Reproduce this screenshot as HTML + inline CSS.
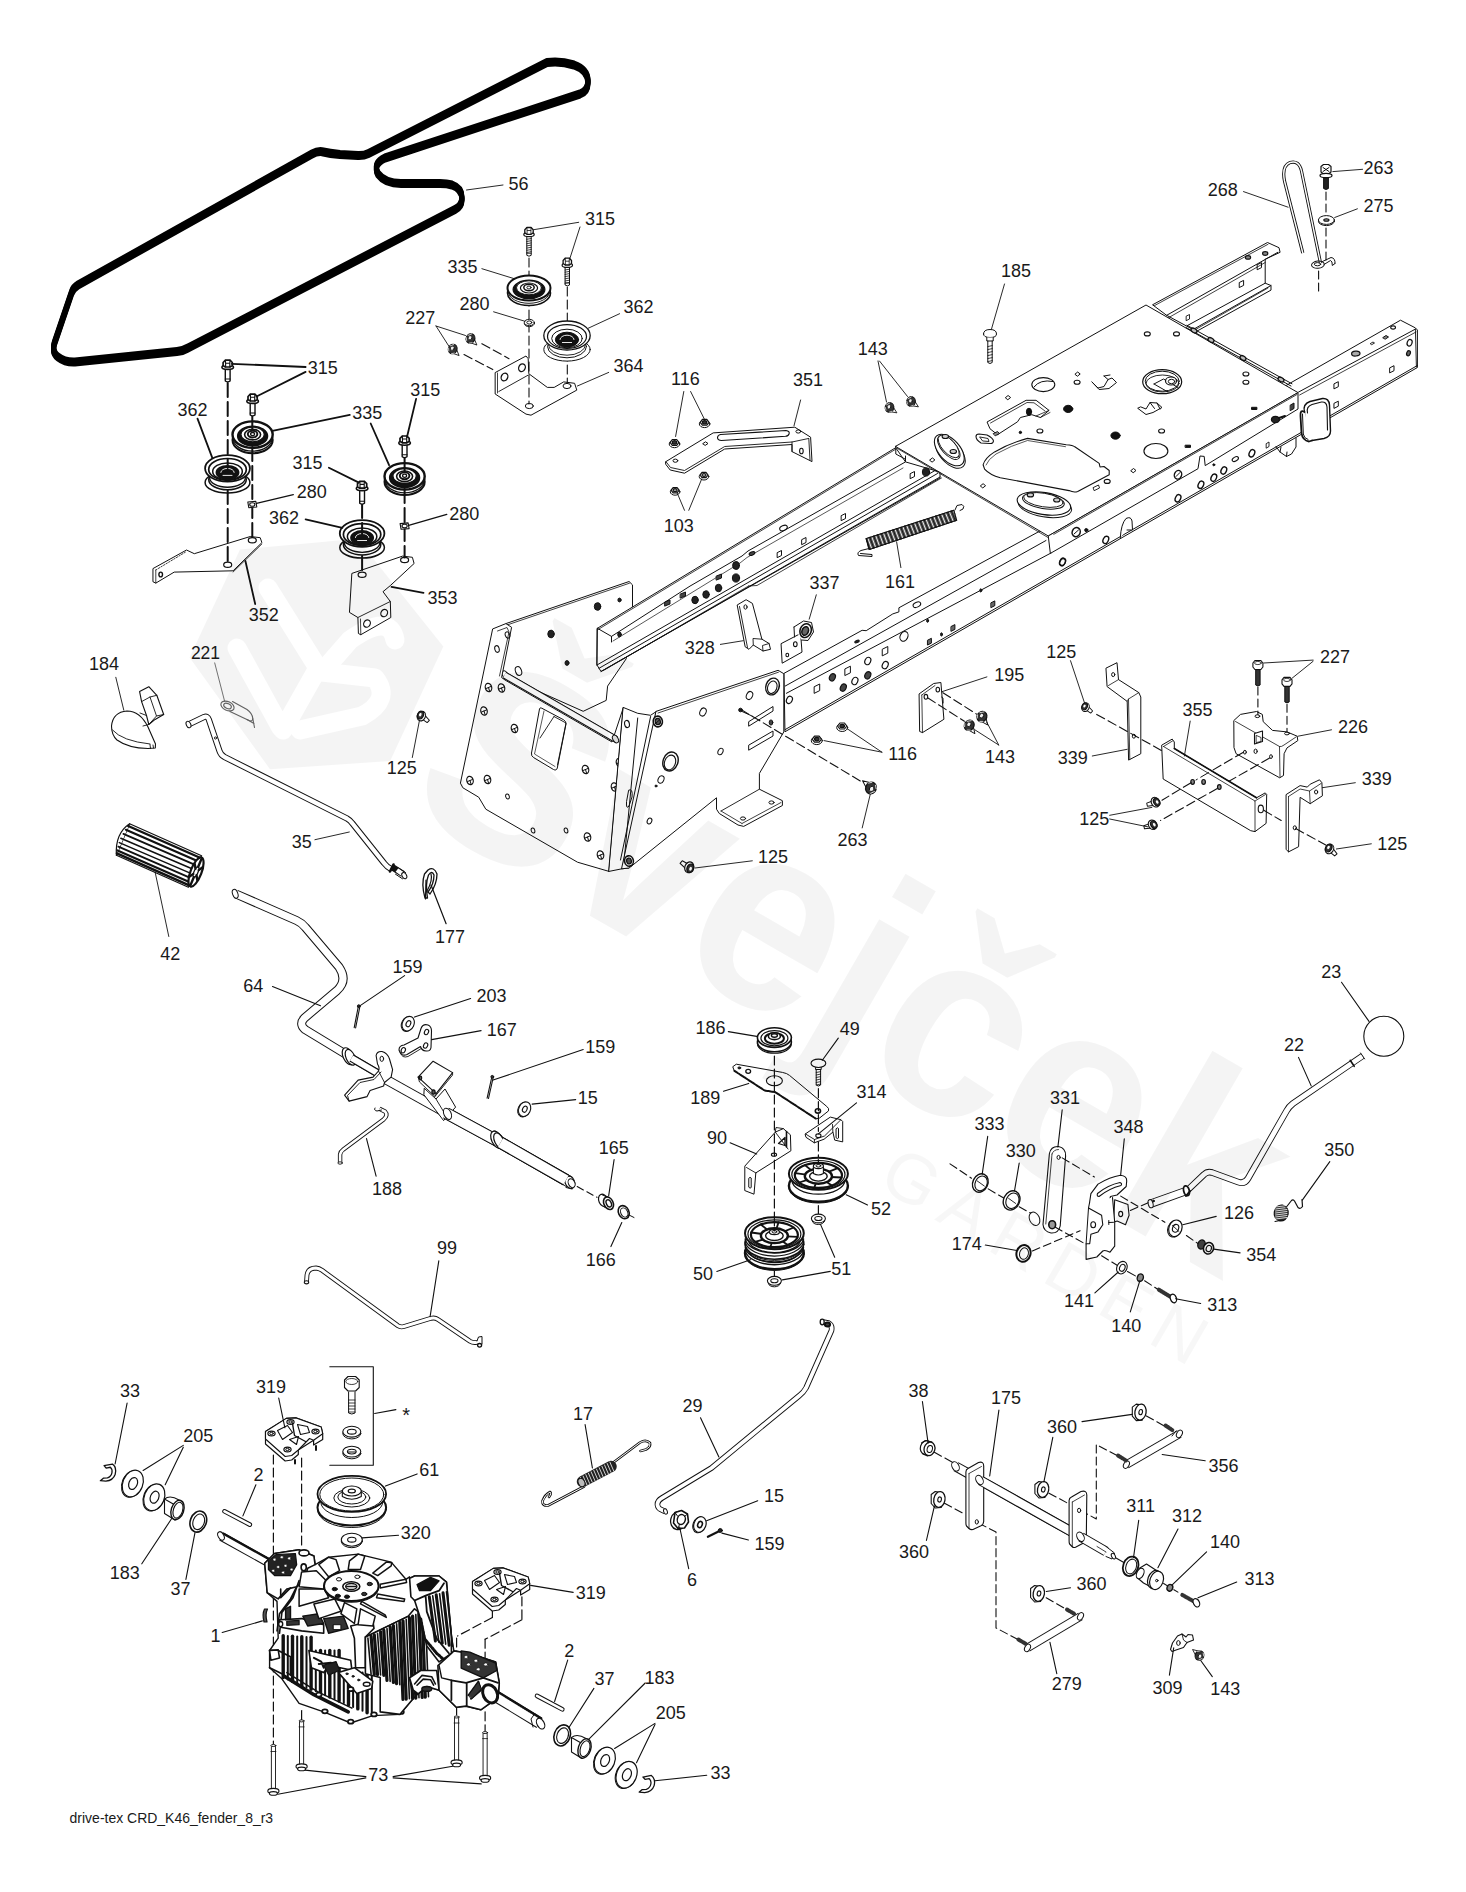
<!DOCTYPE html>
<html lang="en"><head><meta charset="utf-8"><title>drive-tex CRD_K46_fender_8_r3</title>
<style>
html,body{margin:0;padding:0;background:#fff}
body{width:1466px;height:1892px;overflow:hidden}
svg{display:block}
svg text{font-family:"Liberation Sans",sans-serif;fill:#1a1a1a;stroke:none}
</style></head><body>
<svg width="1466" height="1892" viewBox="0 0 1466 1892" fill="none" stroke="#111" stroke-linecap="round" stroke-linejoin="round">
<rect x="0" y="0" width="1466" height="1892" fill="#fff" stroke="none"/>
<g id="01_belt">
<path d="M547 62.5 L368.5 153.5 Q364 155.8 358 155.6 L340 154.6 Q330 153.5 322 151.7 Q317 151.2 312 154 L78 285 Q73 288 71.5 293 L54.5 343 Q51.5 352 58 357 Q65 362.5 75 362 L177 351.5 Q183 351 188 348 L455 209.5 Q462 206 462 198.5 Q462 188.5 452 185 Q447 183.5 440 183.5 L401 183.5 Q385 183.5 378 174 Q372.5 164 385 158 L580 94 Q588 91 588 82 Q588 70 574 65 Q560 60.5 547 62.5 Z" stroke="#000" stroke-width="5" transform="translate(0 -2)"/>
<path d="M547 62.5 L368.5 153.5 Q364 155.8 358 155.6 L340 154.6 Q330 153.5 322 151.7 Q317 151.2 312 154 L78 285 Q73 288 71.5 293 L54.5 343 Q51.5 352 58 357 Q65 362.5 75 362 L177 351.5 Q183 351 188 348 L455 209.5 Q462 206 462 198.5 Q462 188.5 452 185 Q447 183.5 440 183.5 L401 183.5 Q385 183.5 378 174 Q372.5 164 385 158 L580 94 Q588 91 588 82 Q588 70 574 65 Q560 60.5 547 62.5 Z" stroke="#000" stroke-width="5" transform="translate(0 -1)"/>
<path d="M547 62.5 L368.5 153.5 Q364 155.8 358 155.6 L340 154.6 Q330 153.5 322 151.7 Q317 151.2 312 154 L78 285 Q73 288 71.5 293 L54.5 343 Q51.5 352 58 357 Q65 362.5 75 362 L177 351.5 Q183 351 188 348 L455 209.5 Q462 206 462 198.5 Q462 188.5 452 185 Q447 183.5 440 183.5 L401 183.5 Q385 183.5 378 174 Q372.5 164 385 158 L580 94 Q588 91 588 82 Q588 70 574 65 Q560 60.5 547 62.5 Z" stroke="#000" stroke-width="5" transform="translate(0 0)"/>
<path d="M547 62.5 L368.5 153.5 Q364 155.8 358 155.6 L340 154.6 Q330 153.5 322 151.7 Q317 151.2 312 154 L78 285 Q73 288 71.5 293 L54.5 343 Q51.5 352 58 357 Q65 362.5 75 362 L177 351.5 Q183 351 188 348 L455 209.5 Q462 206 462 198.5 Q462 188.5 452 185 Q447 183.5 440 183.5 L401 183.5 Q385 183.5 378 174 Q372.5 164 385 158 L580 94 Q588 91 588 82 Q588 70 574 65 Q560 60.5 547 62.5 Z" stroke="#000" stroke-width="5" transform="translate(0 1)"/>
<path d="M547 62.5 L368.5 153.5 Q364 155.8 358 155.6 L340 154.6 Q330 153.5 322 151.7 Q317 151.2 312 154 L78 285 Q73 288 71.5 293 L54.5 343 Q51.5 352 58 357 Q65 362.5 75 362 L177 351.5 Q183 351 188 348 L455 209.5 Q462 206 462 198.5 Q462 188.5 452 185 Q447 183.5 440 183.5 L401 183.5 Q385 183.5 378 174 Q372.5 164 385 158 L580 94 Q588 91 588 82 Q588 70 574 65 Q560 60.5 547 62.5 Z" stroke="#000" stroke-width="5" transform="translate(0 2)"/>
<path d="M466.5 190L503 185" stroke-width="0.9"/>
<text x="518.5" y="189.5" font-size="18" text-anchor="middle">56</text>
</g>
<g id="02_grpA">
<path d="M495.5 372.4L526 356L528.2 358.7L528.8 373.7L547.3 387.4L554.2 387.4L563.7 381.9L574.6 383.3L576.8 390.1L531 415.2L526 414.1L495.5 394.2Z" stroke-width="1" fill="#fff"/>
<path d="M498.8 391.5L528.2 375.1" stroke-width="0.9"/>
<path d="M497.5 373L497.5 393" stroke-width="0.8"/>
<ellipse cx="504.5" cy="377" rx="3.2" ry="4" stroke-width="1.3" fill="#fff" transform="rotate(25 504.5 377)"/>
<ellipse cx="522" cy="367.7" rx="3.2" ry="4" stroke-width="1.3" fill="#fff" transform="rotate(25 522 367.7)"/>
<ellipse cx="529.3" cy="406" rx="4" ry="2.6" stroke-width="1" fill="none"/>
<ellipse cx="567" cy="386" rx="4" ry="2.6" stroke-width="1" fill="none"/>
<path d="M529 258L529 404" stroke-width="1.1" stroke-dasharray="9 4"/>
<path d="M567.3 287L567.3 383" stroke-width="1.1" stroke-dasharray="9 4"/>
<path d="M481.9 343.7L509 358.7" stroke-width="1.1" stroke-dasharray="9 4"/>
<path d="M464 354.6L492.8 369.6" stroke-width="1.1" stroke-dasharray="9 4"/>
<g transform="translate(470.5 338.5) rotate(25) scale(0.9)">
<path d="M2 -3.2L9.5 3.6L1 4.4Z" fill="#fff" stroke-width="0.9"/>
<ellipse cx="0" cy="0" rx="4.8" ry="5.4" fill="#333" stroke-width="1.2"/>
<ellipse cx="-0.8" cy="-0.6" rx="2" ry="2.4" fill="#eee" stroke-width="0.8"/>
<path d="M-4 -2L-1 -5M-4.6 1L-3 3.8M1 5.2L3.6 3.4" stroke="#fff" stroke-width="0.7"/>
</g>
<g transform="translate(452.7 349) rotate(25) scale(0.9)">
<path d="M2 -3.2L9.5 3.6L1 4.4Z" fill="#fff" stroke-width="0.9"/>
<ellipse cx="0" cy="0" rx="4.8" ry="5.4" fill="#333" stroke-width="1.2"/>
<ellipse cx="-0.8" cy="-0.6" rx="2" ry="2.4" fill="#eee" stroke-width="0.8"/>
<path d="M-4 -2L-1 -5M-4.6 1L-3 3.8M1 5.2L3.6 3.4" stroke="#fff" stroke-width="0.7"/>
</g>
<ellipse cx="529" cy="293" rx="21.5" ry="12.5" stroke-width="1.6" fill="#fff"/>
<ellipse cx="529" cy="291.2" rx="20.9" ry="12.1" stroke-width="0.96" fill="#fff"/>
<ellipse cx="529" cy="288" rx="21.5" ry="12.5" stroke-width="2.0" fill="#fff"/>
<ellipse cx="529" cy="289.4" rx="15.9" ry="9.2" stroke-width="1.2" fill="#111"/>
<ellipse cx="529" cy="287.8" rx="12.5" ry="7" stroke-width="0.96" fill="#fff"/>
<ellipse cx="529" cy="288" rx="8.6" ry="5" stroke-width="1.2" fill="#fff"/>
<ellipse cx="529" cy="287.5" rx="5.2" ry="3.2" stroke-width="1.5" fill="#fff"/>
<ellipse cx="529" cy="287.5" rx="2.1" ry="1.5" stroke-width="0.96" fill="#fff"/>
<ellipse cx="567" cy="349.5" rx="23.2" ry="11.6" stroke-width="1.0" fill="#fff"/>
<ellipse cx="567" cy="346.5" rx="19.5" ry="11.3" stroke-width="1.0" fill="#fff"/>
<ellipse cx="567" cy="344.5" rx="18.6" ry="10.7" stroke-width="0.9" fill="#fff"/>
<ellipse cx="567" cy="335.5" rx="23.2" ry="14.5" stroke-width="1.3" fill="#fff"/>
<ellipse cx="567" cy="336.5" rx="19.5" ry="11.9" stroke-width="1.2" fill="#fff"/>
<ellipse cx="567" cy="338.5" rx="15.3" ry="9.3" stroke-width="1.0" fill="#fff"/>
<ellipse cx="567" cy="339.7" rx="11.6" ry="7.5" stroke-width="1.0" fill="#111"/>
<path d="M560 339.5 A7 4.3 0 0 1 574 339.5" stroke-width="0.9" fill="none" stroke="#fff"/>
<path d="M562.4 342.5 H571.6" stroke-width="0.9" fill="none" stroke="#fff"/>
<ellipse cx="529.3" cy="323.5" rx="5" ry="3.2" stroke-width="1" fill="#fff"/>
<ellipse cx="529.3" cy="322.5" rx="5" ry="3.2" stroke-width="1" fill="#fff"/>
<ellipse cx="529.3" cy="322.5" rx="2.5" ry="1.6" stroke-width="1" fill="#fff"/>
<path d="M526.8 235.3V255.3Q529 257.1 531.2 255.3V235.3" stroke-width="1.0" fill="#fff"/>
<path d="M526.8 253.3L531.2 253.3" stroke-width="0.8"/>
<ellipse cx="529" cy="234.5" rx="5.2" ry="2.2" stroke-width="1.2" fill="#fff"/>
<path d="M524.8 229.8L526.9 227.5L531.1 227.5L533.2 229.8L533.2 232.8L531.1 234.3L526.9 234.3L524.8 232.8Z" stroke-width="1.3" fill="#fff"/>
<path d="M526.9 227.5L527.1 230.5L530.9 230.5L531.1 227.5M527.1 230.5V234.3M530.9 230.5V234.3" stroke-width="0.8" fill="none"/>
<path d="M526.8 239.3L531.2 238.5" stroke-width="0.8"/>
<path d="M526.8 241.5L531.2 240.7" stroke-width="0.8"/>
<path d="M526.8 243.7L531.2 242.9" stroke-width="0.8"/>
<path d="M526.8 245.9L531.2 245.1" stroke-width="0.8"/>
<path d="M526.8 248.1L531.2 247.3" stroke-width="0.8"/>
<path d="M526.8 250.3L531.2 249.5" stroke-width="0.8"/>
<path d="M526.8 252.5L531.2 251.7" stroke-width="0.8"/>
<path d="M565.1 266V285Q567.3 286.8 569.5 285V266" stroke-width="1.0" fill="#fff"/>
<path d="M565.1 283L569.5 283" stroke-width="0.8"/>
<ellipse cx="567.3" cy="265.2" rx="5.2" ry="2.2" stroke-width="1.2" fill="#fff"/>
<path d="M563.1 260.5L565.2 258.2L569.4 258.2L571.5 260.5L571.5 263.5L569.4 265L565.2 265L563.1 263.5Z" stroke-width="1.3" fill="#fff"/>
<path d="M565.2 258.2L565.4 261.2L569.2 261.2L569.4 258.2M565.4 261.2V265M569.2 261.2V265" stroke-width="0.8" fill="none"/>
<path d="M565.1 270L569.5 269.2" stroke-width="0.8"/>
<path d="M565.1 272.2L569.5 271.4" stroke-width="0.8"/>
<path d="M565.1 274.4L569.5 273.6" stroke-width="0.8"/>
<path d="M565.1 276.6L569.5 275.8" stroke-width="0.8"/>
<path d="M565.1 278.8L569.5 278" stroke-width="0.8"/>
<path d="M565.1 281L569.5 280.2" stroke-width="0.8"/>
<path d="M565.1 283.2L569.5 282.4" stroke-width="0.8"/>
<path d="M578.7 222.3L533.7 229.7" stroke-width="0.9"/>
<path d="M580 227L569.7 259" stroke-width="0.9"/>
<path d="M481.9 268.7L514.6 278.8" stroke-width="0.9"/>
<path d="M493.6 311.8L525 321.3" stroke-width="0.9"/>
<path d="M619.6 313.7L588.3 328.2" stroke-width="0.9"/>
<path d="M608.7 372.4L577.4 386" stroke-width="0.9"/>
<path d="M436 326L465.5 335.5" stroke-width="0.9"/>
<path d="M436 326L449 346.4" stroke-width="0.9"/>
<text x="600" y="225" font-size="18" text-anchor="middle">315</text>
<text x="462.5" y="272.8" font-size="18" text-anchor="middle">335</text>
<text x="474.5" y="310.4" font-size="18" text-anchor="middle">280</text>
<text x="420.3" y="323.8" font-size="18" text-anchor="middle">227</text>
<text x="638.5" y="312.9" font-size="18" text-anchor="middle">362</text>
<text x="628.5" y="371.8" font-size="18" text-anchor="middle">364</text>
</g>
<g id="03_grpB">
<path d="M153.3 568.4L186.5 550L194.3 553.7L250.3 536.5L260.2 537.7L261.9 542.6L233.1 570.8L174.2 572.1L155.8 583.1L153.3 581.9Z" stroke-width="1" fill="#fff"/>
<path d="M155.8 570L155.8 583" stroke-width="0.8"/>
<path d="M155.8 570L186.5 551.5" stroke-width="0.8" stroke-dasharray="1.5 1.5"/>
<ellipse cx="252.3" cy="540.3" rx="4" ry="2.6" stroke-width="1.2" fill="none"/>
<ellipse cx="227.7" cy="564.7" rx="4" ry="2.6" stroke-width="1.2" fill="none"/>
<ellipse cx="160.7" cy="574.5" rx="1.8" ry="2.4" stroke-width="1.4" fill="none"/>
<path d="M233.1 572L261.9 544" stroke-width="0.8"/>
<path d="M352.2 573.3L402.6 556.1L412.4 557.3L414.1 563.5L390.3 585.6L383 591.7L390.3 601.5L390.8 617.5L360.8 634.7L358.4 633.5L357.9 617.5L349.8 612.6Z" stroke-width="1" fill="#fff"/>
<path d="M357.9 617.5L390.3 601.5" stroke-width="0.9"/>
<path d="M360.8 634.7L360.5 619" stroke-width="0.8"/>
<ellipse cx="367" cy="623.6" rx="3.2" ry="3.8" stroke-width="1.2" fill="#fff" transform="rotate(30 367 623.6)"/>
<ellipse cx="384.2" cy="613.1" rx="3.2" ry="3.8" stroke-width="1.2" fill="#fff" transform="rotate(30 384.2 613.1)"/>
<ellipse cx="404.6" cy="560" rx="4" ry="2.6" stroke-width="1.2" fill="none"/>
<ellipse cx="362.1" cy="574.7" rx="4" ry="2.6" stroke-width="1.2" fill="none"/>
<ellipse cx="252.6" cy="440.1" rx="20.1" ry="13.2" stroke-width="2.0" fill="#fff"/>
<ellipse cx="252.6" cy="438.3" rx="19.5" ry="12.8" stroke-width="1.2800000000000002" fill="#fff"/>
<ellipse cx="252.6" cy="434.6" rx="20.1" ry="13.2" stroke-width="2.4000000000000004" fill="#fff"/>
<ellipse cx="252.6" cy="436" rx="14.9" ry="9.8" stroke-width="1.6" fill="#111"/>
<ellipse cx="252.6" cy="434.4" rx="11.7" ry="7.4" stroke-width="1.2800000000000002" fill="#fff"/>
<ellipse cx="252.6" cy="434.6" rx="8" ry="5.3" stroke-width="1.6" fill="#fff"/>
<ellipse cx="252.6" cy="434.1" rx="4.8" ry="3.4" stroke-width="1.9000000000000001" fill="#fff"/>
<ellipse cx="252.6" cy="434.1" rx="2" ry="1.6" stroke-width="1.2800000000000002" fill="#fff"/>
<ellipse cx="227.5" cy="482.4" rx="22.4" ry="10.6" stroke-width="1.5" fill="#fff"/>
<ellipse cx="227.5" cy="479.4" rx="18.8" ry="10.4" stroke-width="1.5" fill="#fff"/>
<ellipse cx="227.5" cy="477.4" rx="17.9" ry="9.8" stroke-width="1.35" fill="#fff"/>
<ellipse cx="227.5" cy="468.4" rx="22.4" ry="13.3" stroke-width="1.8" fill="#fff"/>
<ellipse cx="227.5" cy="469.4" rx="18.8" ry="10.9" stroke-width="1.7" fill="#fff"/>
<ellipse cx="227.5" cy="471.4" rx="14.8" ry="8.5" stroke-width="1.5" fill="#fff"/>
<ellipse cx="227.5" cy="472.6" rx="11.2" ry="6.9" stroke-width="1.5" fill="#111"/>
<path d="M220.8 472.4 A6.7 4 0 0 1 234.2 472.4" stroke-width="0.9" fill="none" stroke="#fff"/>
<path d="M223 475.4 H232" stroke-width="0.9" fill="none" stroke="#fff"/>
<ellipse cx="404.6" cy="481.8" rx="20.1" ry="13.2" stroke-width="2.0" fill="#fff"/>
<ellipse cx="404.6" cy="480" rx="19.5" ry="12.8" stroke-width="1.2800000000000002" fill="#fff"/>
<ellipse cx="404.6" cy="476.3" rx="20.1" ry="13.2" stroke-width="2.4000000000000004" fill="#fff"/>
<ellipse cx="404.6" cy="477.7" rx="14.9" ry="9.8" stroke-width="1.6" fill="#111"/>
<ellipse cx="404.6" cy="476.1" rx="11.7" ry="7.4" stroke-width="1.2800000000000002" fill="#fff"/>
<ellipse cx="404.6" cy="476.3" rx="8" ry="5.3" stroke-width="1.6" fill="#fff"/>
<ellipse cx="404.6" cy="475.8" rx="4.8" ry="3.4" stroke-width="1.9000000000000001" fill="#fff"/>
<ellipse cx="404.6" cy="475.8" rx="2" ry="1.6" stroke-width="1.2800000000000002" fill="#fff"/>
<ellipse cx="362.1" cy="547.5" rx="22.3" ry="10.6" stroke-width="1.5" fill="#fff"/>
<ellipse cx="362.1" cy="544.5" rx="18.7" ry="10.4" stroke-width="1.5" fill="#fff"/>
<ellipse cx="362.1" cy="542.5" rx="17.8" ry="9.8" stroke-width="1.35" fill="#fff"/>
<ellipse cx="362.1" cy="533.5" rx="22.3" ry="13.3" stroke-width="1.8" fill="#fff"/>
<ellipse cx="362.1" cy="534.5" rx="18.7" ry="10.9" stroke-width="1.7" fill="#fff"/>
<ellipse cx="362.1" cy="536.5" rx="14.7" ry="8.5" stroke-width="1.5" fill="#fff"/>
<ellipse cx="362.1" cy="537.7" rx="11.2" ry="6.9" stroke-width="1.5" fill="#111"/>
<path d="M355.4 537.5 A6.7 4 0 0 1 368.8 537.5" stroke-width="0.9" fill="none" stroke="#fff"/>
<path d="M357.6 540.5 H366.6" stroke-width="0.9" fill="none" stroke="#fff"/>
<path d="M227.7 383L227.7 468" stroke-width="2" stroke-dasharray="14 5"/>
<path d="M227.7 490L227.7 562" stroke-width="2" stroke-dasharray="14 5"/>
<path d="M252.3 416L252.3 434" stroke-width="2" stroke-dasharray="14 5"/>
<path d="M252.3 447L252.3 539" stroke-width="2" stroke-dasharray="14 5"/>
<path d="M404.6 458L404.6 476" stroke-width="2" stroke-dasharray="14 5"/>
<path d="M404.6 489L404.6 557.5" stroke-width="2" stroke-dasharray="14 5"/>
<path d="M362.1 504L362.1 534" stroke-width="2" stroke-dasharray="14 5"/>
<path d="M362.1 556L362.1 573" stroke-width="2" stroke-dasharray="14 5"/>
<path d="M247.8 502L255.8 501.3L256.8 507L248.8 507.7Z" stroke-width="1.1" fill="#fff"/>
<ellipse cx="252.3" cy="504.5" rx="2.6" ry="1.8" stroke-width="1.1" fill="none"/>
<path d="M400.1 523.6L408.1 522.9L409.1 528.6L401.1 529.3Z" stroke-width="1.1" fill="#fff"/>
<ellipse cx="404.6" cy="526.1" rx="2.6" ry="1.8" stroke-width="1.1" fill="none"/>
<path d="M225.3 368V381Q227.7 382.8 230.1 381V368" stroke-width="1.4" fill="#fff"/>
<path d="M225.3 379L230.1 379" stroke-width="1.1199999999999999"/>
<ellipse cx="227.7" cy="367.2" rx="5.8" ry="2.2" stroke-width="1.5999999999999999" fill="#fff"/>
<path d="M223.1 362.5L225.4 360.2L230 360.2L232.3 362.5L232.3 365.5L230 367L225.4 367L223.1 365.5Z" stroke-width="1.7" fill="#fff"/>
<path d="M225.4 360.2L225.6 363.2L229.8 363.2L230 360.2M225.6 363.2V367M229.8 363.2V367" stroke-width="1.1199999999999999" fill="none"/>
<path d="M250.2 402V415Q252.6 416.8 255 415V402" stroke-width="1.4" fill="#fff"/>
<path d="M250.2 413L255 413" stroke-width="1.1199999999999999"/>
<ellipse cx="252.6" cy="401.2" rx="5.8" ry="2.2" stroke-width="1.5999999999999999" fill="#fff"/>
<path d="M248 396.5L250.3 394.2L254.9 394.2L257.2 396.5L257.2 399.5L254.9 401L250.3 401L248 399.5Z" stroke-width="1.7" fill="#fff"/>
<path d="M250.3 394.2L250.5 397.2L254.7 397.2L254.9 394.2M250.5 397.2V401M254.7 397.2V401" stroke-width="1.1199999999999999" fill="none"/>
<path d="M402.2 443.8V456.8Q404.6 458.6 407 456.8V443.8" stroke-width="1.4" fill="#fff"/>
<path d="M402.2 454.8L407 454.8" stroke-width="1.1199999999999999"/>
<ellipse cx="404.6" cy="443" rx="5.8" ry="2.2" stroke-width="1.5999999999999999" fill="#fff"/>
<path d="M400 438.3L402.3 436L406.9 436L409.2 438.3L409.2 441.3L406.9 442.8L402.3 442.8L400 441.3Z" stroke-width="1.7" fill="#fff"/>
<path d="M402.3 436L402.5 439L406.7 439L406.9 436M402.5 439V442.8M406.7 439V442.8" stroke-width="1.1199999999999999" fill="none"/>
<path d="M359.7 489.2V503.2Q362.1 505 364.5 503.2V489.2" stroke-width="1.4" fill="#fff"/>
<path d="M359.7 501.2L364.5 501.2" stroke-width="1.1199999999999999"/>
<ellipse cx="362.1" cy="488.4" rx="5.8" ry="2.2" stroke-width="1.5999999999999999" fill="#fff"/>
<path d="M357.5 483.7L359.8 481.4L364.4 481.4L366.7 483.7L366.7 486.7L364.4 488.2L359.8 488.2L357.5 486.7Z" stroke-width="1.7" fill="#fff"/>
<path d="M359.8 481.4L360 484.4L364.2 484.4L364.4 481.4M360 484.4V488.2M364.2 484.4V488.2" stroke-width="1.1199999999999999" fill="none"/>
<path d="M305.6 367L231.9 363.8" stroke-width="1.8"/>
<path d="M305.6 371.9L256.5 396.5" stroke-width="1.8"/>
<path d="M197.5 418.6L212.3 457.9" stroke-width="1.8"/>
<path d="M349.8 414.9L272.4 430.9" stroke-width="1.8"/>
<path d="M370.7 423.5L389.1 465.2" stroke-width="1.8"/>
<path d="M416.1 398.9L407 437" stroke-width="1.8"/>
<path d="M328.9 467.7L358.4 482.4" stroke-width="1.8"/>
<path d="M293.3 494.7L256.5 503.3" stroke-width="1.3"/>
<path d="M305.6 519.3L342.4 527.9" stroke-width="1.8"/>
<path d="M446.8 514.4L408.7 525.4" stroke-width="1.3"/>
<path d="M245.4 561L255.2 604" stroke-width="1.8"/>
<path d="M391.5 586.8L423.5 592.9" stroke-width="1.8"/>
<text x="322.8" y="373.9" font-size="18" text-anchor="middle">315</text>
<text x="192.6" y="416.1" font-size="18" text-anchor="middle">362</text>
<text x="367.2" y="419.1" font-size="18" text-anchor="middle">335</text>
<text x="425.2" y="396" font-size="18" text-anchor="middle">315</text>
<text x="307.6" y="468.9" font-size="18" text-anchor="middle">315</text>
<text x="311.7" y="498.4" font-size="18" text-anchor="middle">280</text>
<text x="284" y="523.7" font-size="18" text-anchor="middle">362</text>
<text x="464.2" y="519.8" font-size="18" text-anchor="middle">280</text>
<text x="263.8" y="621.2" font-size="18" text-anchor="middle">352</text>
<text x="442.4" y="604" font-size="18" text-anchor="middle">353</text>
</g>
<g id="04_left_mid">
<path d="M111.5 726 Q113 712 127 711 Q140 711 148 727 L155.5 744 L155.3 748 L148 748.5 Q128 748 117 740 Q111.5 735 111.5 726Z" stroke-width="1.1" fill="#fff"/>
<path d="M112.5 730 Q122 741 150 744" stroke-width="0.9" fill="none"/>
<path d="M150 744.5 L150.5 748.5 M153 745 L153.5 748" stroke-width="0.9" fill="none"/>
<path d="M139.6 691.6L148.8 686.7L156.8 695.3L163.7 714.5L155.1 719.4L148.8 724.5L146.5 715.5L141.6 701.6Z" stroke-width="1.1" fill="#fff"/>
<path d="M141.6 701.6 L150 697 L156.8 695.3 M150 697 L156.5 716 L163.7 714.5 M156.5 716 L148.8 724.5" stroke-width="0.9" fill="none"/>
<path d="M140 713 L146.5 715.5 M143 726 L148.8 724.5" stroke-width="0.9" fill="none"/>
<path d="M115.8 677.3L123.8 710.2" stroke-width="0.9"/>
<text x="104.1" y="670.1" font-size="18" text-anchor="middle">184</text>
<ellipse cx="227.5" cy="706" rx="7" ry="4.4" stroke-width="1.2" fill="none" transform="rotate(25 227.5 706)" stroke="#666"/>
<ellipse cx="227.5" cy="706" rx="4" ry="2.4" stroke-width="1.2" fill="none" transform="rotate(25 227.5 706)" stroke="#666"/>
<path d="M232.5 701.5 L247 709.5 Q252.5 713.5 252.8 718.5 Q252.5 722 249 720.5 L230 711.5" stroke-width="1.1" fill="none" stroke="#666"/>
<path d="M252.8 718.5 L254.5 727.5 M247 719.5 L254 723.5" stroke-width="1.1" fill="none" stroke="#666"/>
<path d="M214.7 662.9L224.7 701.6" stroke-width="0.9" stroke="#666"/>
<text x="205.5" y="658.6" font-size="17.5" text-anchor="middle" fill="#666">221</text>
<path d="M189.5 724 L204 717 Q207.5 715.5 208.8 719.5 L219.5 751 Q220.8 755 224.5 757 L347 818.5 Q350.5 820.5 352.5 823.5 L384 863 Q387 867 391 869" stroke-width="6.2" stroke-linecap="butt"/>
<path d="M189.5 724 L204 717 Q207.5 715.5 208.8 719.5 L219.5 751 Q220.8 755 224.5 757 L347 818.5 Q350.5 820.5 352.5 823.5 L384 863 Q387 867 391 869" stroke-width="4.2" stroke="#fff" stroke-linecap="butt"/>
<ellipse cx="188.5" cy="724.5" rx="2.2" ry="3.4" stroke-width="1" fill="#fff" transform="rotate(-25 188.5 724.5)"/>
<circle cx="215.5" cy="738" r="1.1" stroke-width="0.9" fill="none"/>
<path d="M392 867 L403 874" stroke-width="6.5" fill="none" stroke-linecap="butt"/>
<path d="M397 870 L404 875" stroke-width="4.6" fill="none" stroke-linecap="butt" stroke="#fff"/>
<path d="M393.5 864.5 L390 871.5" stroke-width="2.6" fill="none"/>
<ellipse cx="404.3" cy="875.6" rx="2.2" ry="3.3" stroke-width="1" fill="#fff" transform="rotate(-30 404.3 875.6)"/>
<path d="M398.5 868 L405.5 872.5 M395.5 874.2 L402.5 878.8" stroke-width="1" fill="none"/>
<path d="M314.9 839.7L349.3 832" stroke-width="0.9"/>
<text x="301.7" y="848.3" font-size="18" text-anchor="middle">35</text>
<g transform="translate(422.5 716) rotate(25) scale(1)">
<path d="M1 -2L8 1L7 4L1 3Z" fill="#fff" stroke-width="1"/>
<ellipse cx="-1" cy="0.5" rx="4" ry="5" fill="#fff" stroke-width="1.1"/>
<ellipse cx="-2.2" cy="0" rx="3" ry="4" fill="#333" stroke-width="1.1"/>
<ellipse cx="-2.6" cy="-0.3" rx="1.2" ry="1.8" fill="#fff" stroke="none"/>
</g>
<path d="M412.3 757.5L419.5 720.2" stroke-width="0.9"/>
<text x="401.7" y="774.1" font-size="18" text-anchor="middle">125</text>
<path d="M129.6 823.8L201.6 855.8L188.4 887.2L116.4 855.2Z" stroke-width="1.2" fill="#fff"/>
<path d="M129.6 823.8 Q115 833.5 116.4 855.2" stroke-width="1.2" fill="#fff"/>
<path d="M128.2 826L200.6 858" stroke-width="2.4"/>
<path d="M125.9 829.8L199.1 861.8" stroke-width="2.2"/>
<path d="M123.4 833.9L197.4 865.9" stroke-width="1.8"/>
<path d="M120.8 838.2L195.5 870.2" stroke-width="1.5"/>
<path d="M119.3 842.6L193.7 874.6" stroke-width="1.5"/>
<path d="M118.4 846.7L192 878.7" stroke-width="1.8"/>
<path d="M117.5 850.5L190.4 882.5" stroke-width="2.2"/>
<path d="M116.9 853.3L189.2 885.3" stroke-width="2.4"/>
<ellipse cx="196" cy="872" rx="5.5" ry="15.5" stroke-width="2.2" fill="#fff" transform="rotate(21 196 872)"/>
<ellipse cx="196" cy="872" rx="2" ry="5.5" stroke-width="1.3" fill="#fff" transform="rotate(23 196 872)"/>
<path d="M193.8 877.2L190.6 884.9" stroke-width="2.4"/>
<path d="M196.5 875.3L197.3 880.1" stroke-width="2.4"/>
<path d="M198.7 870.1L202.7 867.2" stroke-width="2.4"/>
<path d="M198.2 866.8L201.4 859.1" stroke-width="2.4"/>
<path d="M195.5 868.7L194.7 863.9" stroke-width="2.4"/>
<path d="M193.3 873.9L189.3 876.8" stroke-width="2.4"/>
<path d="M155.1 872.1L168.8 936.5" stroke-width="0.9"/>
<text x="170.2" y="959.5" font-size="18" text-anchor="middle">42</text>
<path d="M424.5 874 Q421 884 425 898 L427.5 898 Q425 884 428.5 875 Q432 870 434 875 Q434 884 428 892 L430 894 Q437 884 437 874 Q434 866 428 870Z" stroke-width="1.3" fill="#fff"/>
<path d="M426 880 L425.5 899 M431 874 Q433 880 427 891" stroke-width="1.2" fill="none"/>
<path d="M431 885L446.1 923.7" stroke-width="1.2"/>
<text x="449.9" y="942.8" font-size="18" text-anchor="middle">177</text>
</g>
<g id="10_frame">
<path d="M505.9 623.6L629.1 581.5L632.5 584.9L632.5 606L626.2 658.8L607.6 686.1L606.2 700.4L583.2 711.3L504 676" stroke-width="1" fill="#fff"/>
<path d="M506.5 625.2L629.5 583.2" stroke-width="0.8"/>
<ellipse cx="551" cy="634" rx="3.2" ry="3.8" stroke-width="1" fill="#222"/>
<ellipse cx="597.5" cy="606.5" rx="3.2" ry="3.8" stroke-width="1" fill="#222"/>
<ellipse cx="619.5" cy="600" rx="1.6" ry="1.9" stroke-width="1" fill="#222"/>
<ellipse cx="567" cy="663" rx="2" ry="2.4" stroke-width="1" fill="#222"/>
<path d="M597.4 628.3L895.7 447.7L905.5 461.9L940 472L940 478L601 671.5L597 665Z" stroke-width="1" fill="#fff"/>
<path d="M597.4 628.3L597 665" stroke-width="0.9"/>
<path d="M597.4 629.9 L895.7 449.2" stroke-width="0.8" fill="none"/>
<path d="M611.5 636.4 L690 586.1 L742 556 L748 551 L905.5 461.9 L905.5 456" stroke-width="1" fill="none"/>
<path d="M597.4 628.3 L611.5 636.4 L611.5 642" stroke-width="1" fill="none"/>
<path d="M613 641 L740 563 L747 557.5 L903 468" stroke-width="0.7" fill="none"/>
<path d="M597 665L935.6 470.2" stroke-width="1"/>
<path d="M599 668.3L937.5 473.5" stroke-width="1"/>
<path d="M601 671.5L940 477" stroke-width="1"/>
<path d="M603.5 670.5L748.5 586" stroke-width="0.7"/>
<path d="M748.5 586 L757 585.5 L941.5 478" stroke-width="0.8" fill="none"/>
<path d="M777.5 552.5L781.5 550.5L781.5 555.5L777.5 557.5Z" stroke-width="1" fill="none"/>
<path d="M802 539.5L806 537.5L806 542.5L802 544.5Z" stroke-width="1" fill="none"/>
<path d="M841.5 515.5L845.5 513.5L845.5 518.5L841.5 520.5Z" stroke-width="1" fill="none"/>
<path d="M910.5 473.5L914.5 471.5L914.5 476.5L910.5 478.5Z" stroke-width="1" fill="none"/>
<ellipse cx="695" cy="600" rx="3.2" ry="3.7" stroke-width="1" fill="#222"/>
<ellipse cx="706" cy="594.5" rx="3.2" ry="3.7" stroke-width="1" fill="#222"/>
<ellipse cx="718.5" cy="588" rx="3.2" ry="3.7" stroke-width="1" fill="#222"/>
<ellipse cx="736" cy="578" rx="3.6" ry="4.1" stroke-width="1" fill="#222"/>
<ellipse cx="736" cy="565.5" rx="3.4" ry="3.9" stroke-width="1" fill="#222"/>
<ellipse cx="926" cy="472" rx="3.6" ry="4.1" stroke-width="1" fill="#222"/>
<path d="M716.5 576L721.5 574L721.5 578L716.5 580Z" stroke-width="1" fill="#444"/>
<path d="M665 602L670 600L670 604L665 606Z" stroke-width="1" fill="#444"/>
<path d="M680.5 594L685.5 592L685.5 596L680.5 598Z" stroke-width="1" fill="#444"/>
<ellipse cx="783.5" cy="528" rx="4" ry="2.4" stroke-width="1.1" fill="none" transform="rotate(-25 783.5 528)"/>
<ellipse cx="752" cy="553.5" rx="3" ry="1.6" stroke-width="1.1" fill="#444" transform="rotate(-25 752 553.5)"/>
<ellipse cx="619.5" cy="634.5" rx="1.8" ry="2.4" stroke-width="1" fill="#222"/>
<path d="M784.3 673.2L862.1 630.3L866.2 630.7L892.8 613.9L898.9 611.9L898.9 607.8L1038.1 532L1290.4 383L1400.5 320.2L1415.4 327.9L1417.4 330L1417.4 367.5L785.3 731.6Z" stroke-width="1" fill="#fff"/>
<path d="M785.3 686L1046 540.5" stroke-width="1"/>
<path d="M786.4 693.3L1051.4 552.8" stroke-width="1"/>
<path d="M785.3 729.5L1417.4 365.5" stroke-width="1"/>
<path d="M1298.5 392.1L1415.4 329.1" stroke-width="1"/>
<path d="M1299.6 395L1416 332" stroke-width="0.8"/>
<path d="M1415.4 329.1L1416.4 367" stroke-width="0.9"/>
<path d="M814.5 686.6L819.7 684L819.7 690.6L814.5 693.2Z" stroke-width="1" fill="none"/>
<path d="M845.2 668.8L850.4 666.2L850.4 672.8L845.2 675.4Z" stroke-width="1" fill="none"/>
<path d="M882.6 649.1L887.8 646.5L887.8 653.1L882.6 655.7Z" stroke-width="1" fill="none"/>
<path d="M927.8 640.1L931.4 638.3L931.4 643.1L927.8 644.9Z" stroke-width="1" fill="#666"/>
<path d="M951.3 626.4L954.9 624.6L954.9 629.4L951.3 631.2Z" stroke-width="1" fill="#666"/>
<path d="M991.2 602.7L994.8 600.9L994.8 605.7L991.2 607.5Z" stroke-width="1" fill="#666"/>
<ellipse cx="789.4" cy="699.9" rx="2.8" ry="3.8" stroke-width="1.2" fill="none" transform="rotate(25 789.4 699.9)"/>
<ellipse cx="832.4" cy="677.3" rx="2.8" ry="3.8" stroke-width="1.2" fill="#444" transform="rotate(25 832.4 677.3)"/>
<ellipse cx="843.3" cy="687.6" rx="2.8" ry="3.8" stroke-width="1.2" fill="#444" transform="rotate(25 843.3 687.6)"/>
<ellipse cx="854.9" cy="681" rx="2.8" ry="3.8" stroke-width="1.2" fill="none" transform="rotate(25 854.9 681)"/>
<ellipse cx="867.8" cy="661" rx="2.8" ry="3.8" stroke-width="1.2" fill="none" transform="rotate(25 867.8 661)"/>
<ellipse cx="867.8" cy="675.3" rx="2.8" ry="3.8" stroke-width="1.2" fill="#444" transform="rotate(25 867.8 675.3)"/>
<ellipse cx="885.2" cy="665.1" rx="2.8" ry="3.8" stroke-width="1.2" fill="none" transform="rotate(25 885.2 665.1)"/>
<ellipse cx="1062.6" cy="561.7" rx="2.8" ry="3.8" stroke-width="1.2" fill="none" transform="rotate(25 1062.6 561.7)"/>
<ellipse cx="904" cy="636.4" rx="3.8" ry="5" stroke-width="1.1" fill="none" transform="rotate(25 904 636.4)"/>
<ellipse cx="941.5" cy="634.4" rx="1" ry="1.6" stroke-width="1" fill="#222"/>
<ellipse cx="927.6" cy="620.7" rx="1" ry="1.6" stroke-width="1" fill="#222"/>
<ellipse cx="980.8" cy="590.4" rx="1" ry="1.6" stroke-width="1" fill="#222"/>
<ellipse cx="857" cy="641.5" rx="2.4" ry="1.2" stroke-width="1" fill="#222" transform="rotate(-20 857 641.5)"/>
<ellipse cx="916.9" cy="604.7" rx="4" ry="2.4" stroke-width="1.1" fill="none" transform="rotate(-25 916.9 604.7)"/>
<path d="M1152.9 304.6L1267.5 242.5L1279 247.7L1280.1 252.3L1265.2 259.2L1265.2 283.2L1271 285.5L1271 290.1L1196.5 331.4L1166.7 315.3Z" stroke-width="1" fill="#fff"/>
<path d="M1154.5 305.6L1268 244.3" stroke-width="0.8"/>
<path d="M1166.7 315.3L1277.8 252.3" stroke-width="1"/>
<path d="M1168 318L1265.2 262.5" stroke-width="0.8"/>
<path d="M1271 285.5L1191.9 330.2" stroke-width="1"/>
<path d="M1265.2 283.2L1187.3 325.6" stroke-width="1"/>
<path d="M1268 288L1193 331" stroke-width="0.8"/>
<ellipse cx="1248" cy="257.4" rx="2.6" ry="1.8" stroke-width="1.2" fill="#888"/>
<ellipse cx="1265.2" cy="253.5" rx="2.6" ry="1.8" stroke-width="1.2" fill="#888"/>
<path d="M1257.5 264.6L1261.5 262.6L1261.5 267.6L1257.5 269.6Z" stroke-width="1" fill="none"/>
<path d="M1239.6 282.4L1243.6 280.4L1243.6 285.4L1239.6 287.4Z" stroke-width="1" fill="none"/>
<path d="M1186.5 316L1189.5 314.5L1189.5 319L1186.5 320.5Z" stroke-width="0.9" fill="none"/>
<ellipse cx="1393.1" cy="327.5" rx="2.4" ry="1.6" stroke-width="1.1" fill="none"/>
<path d="M1383 337.5L1386 335.5L1388.5 337L1385.5 339Z" stroke-width="1" fill="#888"/>
<path d="M1370.5 343.5L1373 342L1374.5 343L1372 344.5Z" stroke-width="0.9" fill="none"/>
<ellipse cx="1355.8" cy="353.6" rx="4.2" ry="2.4" stroke-width="1.2" fill="#aaa" transform="rotate(-5 1355.8 353.6)"/>
<ellipse cx="1409.6" cy="342.8" rx="2.4" ry="3.4" stroke-width="1.2" fill="none" transform="rotate(20 1409.6 342.8)"/>
<ellipse cx="1408.5" cy="353.2" rx="1.8" ry="2.6" stroke-width="1.2" fill="#666" transform="rotate(20 1408.5 353.2)"/>
<path d="M1390 367.7L1394 365.7L1394 370.7L1390 372.7Z" stroke-width="1" fill="none"/>
<path d="M1334.3 383.7L1338.3 381.7L1338.3 386.7L1334.3 388.7Z" stroke-width="1" fill="none"/>
<path d="M1334.3 403.2L1338.3 401.2L1338.3 406.2L1334.3 408.2Z" stroke-width="1" fill="none"/>
<path d="M1304.5 412 Q1302.5 404 1310 401.5 L1322.5 398.5 Q1329 398 1329.5 405 L1330.5 431 Q1330.5 437 1324 438.5 L1312 440.5 Q1305.5 440.5 1304.8 434 Z" stroke-width="1.4" fill="#fff"/>
<path d="M1307.5 413 Q1306 406.5 1312 404.5 L1321.5 402 Q1326.5 401.5 1327 407 L1327.5 430" stroke-width="1.1" fill="none"/>
<path d="M1304.5 412 Q1300 409 1300.5 416 L1301.5 433 Q1302.5 440.5 1309 441.5 L1312 440.5" stroke-width="1.8" fill="#fff"/>
<path d="M1302.5 414 L1303.3 434 Q1304 438.5 1308 439.5" stroke-width="1" fill="none"/>
</g>
<g id="11_frontbox">
<path d="M504.5 675 L616.2 739.5" stroke-width="7" stroke-linecap="butt"/>
<path d="M504.5 675 L616.2 739.5" stroke-width="5.2" stroke="#fff" stroke-linecap="butt"/>
<ellipse cx="505" cy="674.5" rx="2.6" ry="4" stroke-width="1" fill="#fff" transform="rotate(-30 505 674.5)"/>
<path d="M493 628.8L505.9 623.6L511.6 627.3L501.6 677.5L505 680L612 742L623.4 707.5L609 871.4L577.5 862.2L485.8 809.2L478.7 797.2L462.9 787.8L460.6 783.5Z" stroke-width="1" fill="#fff"/>
<path d="M504.5 675 L616.2 739.5" stroke-width="7" stroke-linecap="butt"/>
<path d="M504.5 675 L616.2 739.5" stroke-width="5.2" stroke="#fff" stroke-linecap="butt"/>
<ellipse cx="615.5" cy="739" rx="2.6" ry="4.2" stroke-width="1" fill="#ddd" transform="rotate(-30 615.5 739)"/>
<path d="M497.5 631 L507 627.5 L509 632 L499.5 676" stroke-width="0.8" fill="none"/>
<ellipse cx="507.5" cy="635" rx="2.2" ry="3.2" stroke-width="1" fill="none" transform="rotate(-20 507.5 635)"/>
<ellipse cx="518.5" cy="671" rx="3" ry="4.6" stroke-width="1" fill="none" transform="rotate(-20 518.5 671)"/>
<path d="M541.5 708 Q540 707 539.5 709 L531.5 753 Q531 756 533.5 757.5 L553.5 769.5 Q556.5 771 557.3 768 L566 724 Q566.5 721.5 564 720 Z" stroke-width="1" fill="#fff"/>
<path d="M554 716.5 L566 723 L557.5 765 M554 716.5 L540 738" stroke-width="0.9" fill="none"/>
<path d="M544 711 L534.5 754 L555 766.5" stroke-width="0.7" fill="none"/>
<ellipse cx="488.5" cy="687.5" rx="3.2" ry="4.2" stroke-width="1.2" fill="none" transform="rotate(-15 488.5 687.5)"/>
<path d="M486.1 688.5L490.9 686.5M488.5 687.5L489.5 690.9" stroke-width="1" fill="none"/>
<ellipse cx="501.5" cy="688" rx="3.2" ry="4.2" stroke-width="1.2" fill="none" transform="rotate(-15 501.5 688)"/>
<path d="M499.1 689L503.9 687M501.5 688L502.5 691.4" stroke-width="1" fill="none"/>
<ellipse cx="484" cy="711" rx="3.2" ry="4.2" stroke-width="1.2" fill="none" transform="rotate(-15 484 711)"/>
<path d="M481.6 712L486.4 710M484 711L485 714.4" stroke-width="1" fill="none"/>
<ellipse cx="514.5" cy="728.5" rx="3.2" ry="4.2" stroke-width="1.2" fill="none" transform="rotate(-15 514.5 728.5)"/>
<path d="M512.1 729.5L516.9 727.5M514.5 728.5L515.5 731.9" stroke-width="1" fill="none"/>
<ellipse cx="470" cy="780.5" rx="3.2" ry="4.2" stroke-width="1.2" fill="none" transform="rotate(-15 470 780.5)"/>
<path d="M467.6 781.5L472.4 779.5M470 780.5L471 783.9" stroke-width="1" fill="none"/>
<ellipse cx="487.5" cy="779.5" rx="3.2" ry="4.2" stroke-width="1.2" fill="none" transform="rotate(-15 487.5 779.5)"/>
<path d="M485.1 780.5L489.9 778.5M487.5 779.5L488.5 782.9" stroke-width="1" fill="none"/>
<ellipse cx="585.5" cy="769.5" rx="3.2" ry="4.2" stroke-width="1.2" fill="none" transform="rotate(-15 585.5 769.5)"/>
<path d="M583.1 770.5L587.9 768.5M585.5 769.5L586.5 772.9" stroke-width="1" fill="none"/>
<ellipse cx="619.5" cy="762.5" rx="3.2" ry="4.2" stroke-width="1.2" fill="none" transform="rotate(-15 619.5 762.5)"/>
<path d="M617.1 763.5L621.9 761.5M619.5 762.5L620.5 765.9" stroke-width="1" fill="none"/>
<ellipse cx="614.5" cy="787" rx="3.2" ry="4.2" stroke-width="1.2" fill="none" transform="rotate(-15 614.5 787)"/>
<path d="M612.1 788L616.9 786M614.5 787L615.5 790.4" stroke-width="1" fill="none"/>
<ellipse cx="587.5" cy="837" rx="3.2" ry="4.2" stroke-width="1.2" fill="none" transform="rotate(-15 587.5 837)"/>
<path d="M585.1 838L589.9 836M587.5 837L588.5 840.4" stroke-width="1" fill="none"/>
<ellipse cx="600.5" cy="855" rx="3.2" ry="4.2" stroke-width="1.2" fill="none" transform="rotate(-15 600.5 855)"/>
<path d="M598.1 856L602.9 854M600.5 855L601.5 858.4" stroke-width="1" fill="none"/>
<ellipse cx="497" cy="649" rx="2.2" ry="3.4" stroke-width="1" fill="none" transform="rotate(-15 497 649)"/>
<ellipse cx="627" cy="724" rx="2.2" ry="3.4" stroke-width="1" fill="none" transform="rotate(-15 627 724)"/>
<ellipse cx="507.5" cy="796.5" rx="1.8" ry="2.6" stroke-width="1" fill="none" transform="rotate(-15 507.5 796.5)"/>
<ellipse cx="533" cy="830.5" rx="1.8" ry="2.6" stroke-width="1" fill="none" transform="rotate(-15 533 830.5)"/>
<ellipse cx="566" cy="830.5" rx="1.8" ry="2.6" stroke-width="1" fill="none" transform="rotate(-15 566 830.5)"/>
<path d="M623.4 707.5L637.7 713.3L650.6 715.3L656.3 711.5L629.1 868L621.9 868.8L609 871.4Z" stroke-width="1" fill="#fff"/>
<path d="M637.7 718 L623.4 868 M650.6 716.5 L620.5 860 M629 790 Q633 788 632 797 L629 806 Q626 810 626.5 802 Z" stroke-width="1" fill="none"/>
<ellipse cx="627" cy="724" rx="2.4" ry="3.6" stroke-width="1.1" fill="none" transform="rotate(-10 627 724)"/>
<path d="M656.3 711.3L778.1 670.3L783.8 673.7L783.8 731.9L759.4 773.4L759.4 789.2L782.4 800.7L782.4 805.5L743.7 826.4L738 825L719.3 813.5L716.5 809.2L716.5 797.8L629.1 868L621.9 868.8Z" stroke-width="1" fill="#fff"/>
<path d="M658 713L778.5 672.2" stroke-width="0.8"/>
<path d="M721 811L759.4 789.2" stroke-width="0.9"/>
<path d="M721 811L742 823.5" stroke-width="0.8"/>
<path d="M742 823.5L781 802.5" stroke-width="0.8"/>
<ellipse cx="743" cy="818.5" rx="2.6" ry="1.6" stroke-width="1" fill="none"/>
<ellipse cx="771.5" cy="802.5" rx="2.6" ry="1.6" stroke-width="1" fill="none"/>
<ellipse cx="657.8" cy="721.5" rx="4.6" ry="5.4" stroke-width="1.6" fill="#fff" transform="rotate(-10 657.8 721.5)"/>
<ellipse cx="657.8" cy="721.5" rx="2.6" ry="3.2" stroke-width="1.2" fill="#555" transform="rotate(-10 657.8 721.5)"/>
<path d="M655.5 723.5L660 719.5" stroke-width="1"/>
<ellipse cx="629" cy="861" rx="4.4" ry="5.2" stroke-width="1.6" fill="#fff" transform="rotate(-10 629 861)"/>
<ellipse cx="629" cy="861" rx="2.4" ry="3" stroke-width="1.2" fill="#555" transform="rotate(-10 629 861)"/>
<ellipse cx="772.5" cy="686.5" rx="6.6" ry="8.6" stroke-width="1.4" fill="none" transform="rotate(20 772.5 686.5)"/>
<ellipse cx="772.3" cy="687.2" rx="4.6" ry="6.4" stroke-width="1.1" fill="none" transform="rotate(20 772.3 687.2)"/>
<ellipse cx="670.5" cy="761.5" rx="7.4" ry="9.8" stroke-width="1.4" fill="none" transform="rotate(20 670.5 761.5)"/>
<ellipse cx="670" cy="762.5" rx="5.4" ry="7.6" stroke-width="1.1" fill="none" transform="rotate(20 670 762.5)"/>
<ellipse cx="749.5" cy="695.5" rx="3" ry="4.2" stroke-width="1" fill="none" transform="rotate(25 749.5 695.5)"/>
<ellipse cx="703" cy="712" rx="3" ry="4.2" stroke-width="1" fill="none" transform="rotate(25 703 712)"/>
<ellipse cx="720.5" cy="751.5" rx="2.4" ry="3.4" stroke-width="1" fill="none" transform="rotate(25 720.5 751.5)"/>
<ellipse cx="661" cy="779.5" rx="2.8" ry="3.9" stroke-width="1" fill="none" transform="rotate(25 661 779.5)"/>
<ellipse cx="649.5" cy="821" rx="2.2" ry="3.1" stroke-width="1" fill="none" transform="rotate(25 649.5 821)"/>
<circle cx="740.5" cy="710" r="1.8" stroke-width="1" fill="#222"/>
<circle cx="656" cy="786" r="1" stroke-width="1" fill="#222"/>
<ellipse cx="771" cy="722.5" rx="1.8" ry="2.6" stroke-width="1" fill="#444"/>
<path d="M749 721.5L773 706.5L773 711L749 726Z" stroke-width="1" fill="none"/>
<path d="M749 745L773 731L773 736L749 750Z" stroke-width="1" fill="none"/>
<path d="M741 711L752 716" stroke-width="1"/>
</g>
<g id="12_plate">
<path d="M895.8 446.2L1146 305L1298 392.6L1048.6 535.8Z" stroke-width="1" fill="#fff"/>
<path d="M1048.6 535.8L1298 392.6L1298 409L1205.2 465.6L1204.2 456.4L1200 456L1198 468.7L1050.7 553.2Z" stroke-width="1" fill="#fff"/>
<path d="M1053.8 534.3L1297 394.5" stroke-width="0.8"/>
<path d="M895.8 446.2 L895.8 454 L905 459" stroke-width="1" fill="none"/>
<path d="M897.5 448.5L1048 537.5" stroke-width="0.8"/>
<path d="M1120.3 537.8 Q1121 524 1126 518.5 Q1131 516 1132 521 L1132.5 530 L1127 530" stroke-width="1" fill="#fff"/>
<path d="M983.1 464.8 Q985 458 994.6 451.9 Q1010 443 1027.5 438.4 L1066.2 444.7 Q1073 445 1074.8 446.8 L1099.2 463.4 L1100 467 L1104 466.5 L1109.2 470.5 L1109.2 474.8 L1077.7 491.4 Q1074 493 1069.1 490.6 L1000.3 477.7 Q990 475 984.6 469.1 Z" stroke-width="1.1" fill="#fff"/>
<path d="M986 465 Q988 459.5 996 454 Q1011 445.5 1027.5 440.5 L1065.5 446.7" stroke-width="0.7" fill="none"/>
<ellipse cx="950.3" cy="452.5" rx="19" ry="10.5" stroke-width="1" fill="#fff" transform="rotate(48 950.3 452.5)"/>
<ellipse cx="949.3" cy="450" rx="19" ry="10.5" stroke-width="1.1" fill="#fff" transform="rotate(48 949.3 450)"/>
<ellipse cx="948.8" cy="447.5" rx="14.8" ry="7.1" stroke-width="1" fill="#fff" transform="rotate(48 948.8 447.5)"/>
<ellipse cx="948.8" cy="446.5" rx="14.1" ry="6.5" stroke-width="0.9" fill="#fff" transform="rotate(48 948.8 446.5)"/>
<ellipse cx="945.3" cy="436.5" rx="3.2" ry="2" stroke-width="1.1" fill="#ccc"/>
<ellipse cx="953.3" cy="451.5" rx="3.2" ry="2" stroke-width="1.1" fill="#ccc"/>
<ellipse cx="1044.9" cy="506" rx="27" ry="11" stroke-width="1" fill="#fff" transform="rotate(9 1044.9 506)"/>
<ellipse cx="1043.9" cy="503.5" rx="27" ry="11" stroke-width="1.1" fill="#fff" transform="rotate(9 1043.9 503.5)"/>
<ellipse cx="1043.4" cy="501" rx="21.1" ry="7.5" stroke-width="1" fill="#fff" transform="rotate(9 1043.4 501)"/>
<ellipse cx="1043.4" cy="500" rx="20" ry="6.8" stroke-width="0.9" fill="#fff" transform="rotate(9 1043.4 500)"/>
<ellipse cx="1030.4" cy="494.9" rx="3.2" ry="2" stroke-width="1.1" fill="#ccc"/>
<ellipse cx="1056.8" cy="500" rx="3.2" ry="2" stroke-width="1.1" fill="#ccc"/>
<ellipse cx="1043.3" cy="384.6" rx="11.5" ry="7" stroke-width="1.1" fill="#fff"/>
<path d="M1034 387 Q1040 379 1053 381.5" stroke-width="1" fill="none"/>
<ellipse cx="1162.2" cy="381.7" rx="19.5" ry="12" stroke-width="1.2" fill="#fff"/>
<ellipse cx="1162.2" cy="381.2" rx="17" ry="10" stroke-width="1" fill="#fff"/>
<ellipse cx="1162.5" cy="383.5" rx="16.5" ry="8.5" stroke-width="0.9" fill="none"/>
<path d="M1154 384 L1163.5 379 L1178 387.5 M1154 384 L1168 392" stroke-width="1" fill="none"/>
<ellipse cx="1171" cy="381" rx="5.5" ry="4" stroke-width="1.2" fill="#fff"/>
<ellipse cx="1171.5" cy="381.5" rx="3.2" ry="2.2" stroke-width="1" fill="none"/>
<ellipse cx="1155.9" cy="451" rx="12" ry="7.5" stroke-width="1.1" fill="#fff"/>
<ellipse cx="1068.2" cy="408.9" rx="4.6" ry="3.6" stroke-width="1" fill="#111"/>
<ellipse cx="1115.5" cy="435.6" rx="4.6" ry="3.6" stroke-width="1" fill="#111"/>
<ellipse cx="1147.3" cy="333.9" rx="3" ry="2" stroke-width="1.1" fill="none"/>
<ellipse cx="1176.5" cy="333.9" rx="3" ry="2" stroke-width="1.1" fill="none"/>
<ellipse cx="1245.9" cy="374" rx="3" ry="2" stroke-width="1.1" fill="none"/>
<ellipse cx="1245.9" cy="382.3" rx="3" ry="2" stroke-width="1.1" fill="none"/>
<ellipse cx="1077.1" cy="382.3" rx="3" ry="2" stroke-width="1.1" fill="none"/>
<ellipse cx="1039.9" cy="431" rx="3" ry="2" stroke-width="1.1" fill="none"/>
<ellipse cx="1161.6" cy="431" rx="3" ry="2" stroke-width="1.1" fill="none"/>
<ellipse cx="1107.2" cy="481.4" rx="3" ry="2" stroke-width="1.1" fill="none"/>
<path d="M1075.2 374L1077.7 372L1080.2 374L1077.7 376Z" stroke-width="1" fill="none"/>
<path d="M1131 470.5L1133.5 468.5L1136 470.5L1133.5 472.5Z" stroke-width="1" fill="none"/>
<path d="M1005.6 397.5L1008.1 395.5L1010.6 397.5L1008.1 399.5Z" stroke-width="1" fill="none"/>
<path d="M980.6 485.7L983.1 483.7L985.6 485.7L983.1 487.7Z" stroke-width="1" fill="none"/>
<path d="M929.9 459.9L932.4 457.9L934.9 459.9L932.4 461.9Z" stroke-width="1" fill="none"/>
<path d="M1185.5 445.2L1190.5 445.2L1190.5 447.4L1185.5 447.4Z" stroke-width="1" fill="#111"/>
<path d="M1251.9 407.3L1256.9 407.3L1256.9 409.5L1251.9 409.5Z" stroke-width="1" fill="#111"/>
<circle cx="1020.4" cy="432.4" r="1.2" stroke-width="1" fill="#111"/>
<path d="M987.4 421.8L1026.1 400.3L1036.1 400.3L1049 410.4L1040.4 417.5L1031.8 414.7L1020.4 417.5L1017.5 421.8L997.5 434.7L990.3 429Z" stroke-width="1" fill="#fff"/>
<path d="M990.5 423 L1027 402.5 L1034 402.8 L1045 411 M1036 416 L1049 410.4 M1040.4 417.5 L1050 412.5" stroke-width="0.8" fill="none"/>
<ellipse cx="1029" cy="411.8" rx="2.6" ry="3.6" stroke-width="1" fill="#111"/>
<path d="M993.5 433.5L997.5 431.5L999.5 433.5L995.5 435.7Z" stroke-width="0.9" fill="#888"/>
<path d="M976 436.5 Q976 434 979 434 L987 435 Q993 438 993.5 441 Q993 444 990 443.5 L981 443 Q976 440 976 436.5Z" stroke-width="1.1" fill="#fff"/>
<path d="M980 437 L988 438.5 L989 441.5 L983 441 Z" stroke-width="0.9" fill="none"/>
<path d="M1092 382 L1098 388 L1104 386.5 L1108 379.5 L1112 378 L1116.5 382.5 L1109 388.5 L1099.5 389.5 Z M1104 376 L1108 379.5 M1104 376 L1110 375" stroke-width="1" fill="#fff"/>
<path d="M1138 408.5 L1146 414.5 L1153 412.5 L1162 407.5 L1157 403 L1150 402.5 L1146 409 L1141 407 Z M1150 402.5 L1154.5 408.5 M1157 403 L1160 409" stroke-width="1" fill="#fff"/>
<path d="M1093.4 487.5 L1098.5 485 L1099.5 488 L1094.5 490.5Z" stroke-width="0.9" fill="none"/>
<ellipse cx="1178" cy="474.8" rx="3.6" ry="4.4" stroke-width="1.4" fill="#fff" transform="rotate(20 1178 474.8)"/>
<path d="M1176 476.5L1180 472.5" stroke-width="1"/>
<ellipse cx="1076.2" cy="532.1" rx="4" ry="4.6" stroke-width="1.5" fill="#fff" transform="rotate(20 1076.2 532.1)"/>
<path d="M1074 534L1078.5 530" stroke-width="1"/>
<circle cx="1086.3" cy="530.1" r="1.6" stroke-width="1" fill="#111"/>
<ellipse cx="1275.4" cy="419.5" rx="4" ry="3.2" stroke-width="1.2" fill="#222"/>
<path d="M1279 418 L1285 416" stroke-width="2" fill="none"/>
<path d="M1290.5 405L1294 403L1294 408.5L1290.5 410.5Z" stroke-width="1" fill="#444"/>
<ellipse cx="1178" cy="498.3" rx="2.6" ry="3.8" stroke-width="1.4" fill="none" transform="rotate(25 1178 498.3)"/>
<ellipse cx="1200.9" cy="484.8" rx="2.6" ry="3.8" stroke-width="1.4" fill="none" transform="rotate(25 1200.9 484.8)"/>
<ellipse cx="1213.8" cy="477.7" rx="2.6" ry="3.8" stroke-width="1.4" fill="none" transform="rotate(25 1213.8 477.7)"/>
<ellipse cx="1223.8" cy="470.5" rx="2.6" ry="3.8" stroke-width="1.4" fill="none" transform="rotate(25 1223.8 470.5)"/>
<ellipse cx="1251.9" cy="453.3" rx="2.6" ry="3.8" stroke-width="1.4" fill="none" transform="rotate(25 1251.9 453.3)"/>
<ellipse cx="1105.8" cy="539.9" rx="2.6" ry="3.8" stroke-width="1.4" fill="none" transform="rotate(25 1105.8 539.9)"/>
<ellipse cx="1062.5" cy="562.2" rx="2.6" ry="3.8" stroke-width="1.4" fill="none" transform="rotate(25 1062.5 562.2)"/>
<ellipse cx="1235.3" cy="459.1" rx="3.4" ry="2" stroke-width="1.1" fill="none" transform="rotate(-30 1235.3 459.1)"/>
<path d="M1266.5 443.5L1269 442L1269 446.5L1266.5 448Z" stroke-width="0.9" fill="none"/>
<circle cx="1213.8" cy="464.8" r="1" stroke-width="1" fill="#111"/>
<path d="M1276 446.5 L1280 452 L1286.5 456.5 L1291.5 454 L1296 447 L1296 438 M1280 452 L1281 447 M1286.5 456.5 L1287 452" stroke-width="1" fill="none"/>
<path d="M1186 327.5L1291 386" stroke-width="1"/>
<path d="M1187 325.3L1292 383.8" stroke-width="1"/>
<ellipse cx="1194" cy="330.5" rx="3.2" ry="2" stroke-width="1.3" fill="#bbb" transform="rotate(30 1194 330.5)"/>
<ellipse cx="1211" cy="340" rx="3.2" ry="2" stroke-width="1.3" fill="#bbb" transform="rotate(30 1211 340)"/>
<ellipse cx="1243" cy="358" rx="3.2" ry="2" stroke-width="1.3" fill="#bbb" transform="rotate(30 1243 358)"/>
<ellipse cx="1281" cy="379.5" rx="3.2" ry="2" stroke-width="1.3" fill="#bbb" transform="rotate(30 1281 379.5)"/>
</g>
<g id="13_frameparts">
<path d="M665.9 461.6L713.2 432.9L794.8 427.2L810.6 437.2L812 461.6L792 451.6L792 444.5L724.7 449L684.5 473.2L670.2 470L665.9 464.5Z" stroke-width="1" fill="#fff"/>
<path d="M665.9 461.6 L670.5 467.5 L684.5 470.5 L724.7 446.5 L792 442 L808.5 438.5 M792 442 L792 451.6 M808.8 438.5 L810 460" stroke-width="0.9" fill="none"/>
<path d="M720.5 434.5 L786 430.5 Q790 431.2 789 434 Q788.5 436 785.5 436.3 L721.5 440.5 Q717.5 440.3 717.5 437.5 Q717.8 435 720.5 434.5Z" stroke-width="1.1" fill="#fff"/>
<ellipse cx="675.4" cy="460.7" rx="2.4" ry="1.6" stroke-width="1" fill="none"/>
<path d="M703 443.5L705.5 441.8L708 443.5L705.5 445.2Z" stroke-width="1" fill="none"/>
<ellipse cx="798.3" cy="431.5" rx="2.4" ry="1.6" stroke-width="1" fill="none"/>
<ellipse cx="801.4" cy="451" rx="1.8" ry="2.8" stroke-width="1.1" fill="none"/>
<ellipse cx="704.6" cy="423.9" rx="5.3" ry="3.7" stroke-width="1" fill="#fff"/>
<path d="M709 422.3L706.8 425.2L702.4 425.2L700.2 422.3L702.4 419.4L706.8 419.4Z" stroke-width="1.2" fill="#fff"/>
<ellipse cx="704.6" cy="422.3" rx="2.2" ry="1.7" stroke-width="1.2" fill="#333"/>
<ellipse cx="674.5" cy="444" rx="5.3" ry="3.7" stroke-width="1" fill="#fff"/>
<path d="M678.9 442.4L676.7 445.3L672.3 445.3L670.1 442.4L672.3 439.5L676.7 439.5Z" stroke-width="1.2" fill="#fff"/>
<ellipse cx="674.5" cy="442.4" rx="2.2" ry="1.7" stroke-width="1.2" fill="#333"/>
<ellipse cx="704" cy="476.6" rx="4.8" ry="3.4" stroke-width="1" fill="#fff"/>
<path d="M708 475L706 477.6L702 477.6L700 475L702 472.4L706 472.4Z" stroke-width="1.2" fill="#fff"/>
<ellipse cx="704" cy="475" rx="2" ry="1.5" stroke-width="1.2" fill="#999"/>
<ellipse cx="675.1" cy="491.8" rx="4.8" ry="3.4" stroke-width="1" fill="#fff"/>
<path d="M679.1 490.2L677.1 492.8L673.1 492.8L671.1 490.2L673.1 487.6L677.1 487.6Z" stroke-width="1.2" fill="#fff"/>
<ellipse cx="675.1" cy="490.2" rx="2" ry="1.5" stroke-width="1.2" fill="#999"/>
<path d="M683.8 391.5L675.6 436.5" stroke-width="0.9"/>
<path d="M690.6 391.5L704.2 418.8" stroke-width="0.9"/>
<path d="M684.5 510.3L677.4 493.5" stroke-width="0.9"/>
<path d="M688.8 510.3L701.7 479" stroke-width="0.9"/>
<path d="M800.6 400L794 425.8" stroke-width="0.9"/>
<text x="685.4" y="385.2" font-size="18" text-anchor="middle">116</text>
<text x="678.8" y="531.8" font-size="18" text-anchor="middle">103</text>
<text x="808" y="385.5" font-size="18" text-anchor="middle">351</text>
<g transform="translate(889.5 407.5) rotate(15) scale(0.9)">
<path d="M2 -3.2L9.5 3.6L1 4.4Z" fill="#fff" stroke-width="0.9"/>
<ellipse cx="0" cy="0" rx="4.8" ry="5.4" fill="#333" stroke-width="1.2"/>
<ellipse cx="-0.8" cy="-0.6" rx="2" ry="2.4" fill="#eee" stroke-width="0.8"/>
<path d="M-4 -2L-1 -5M-4.6 1L-3 3.8M1 5.2L3.6 3.4" stroke="#fff" stroke-width="0.7"/>
</g>
<g transform="translate(911 401.5) rotate(15) scale(0.9)">
<path d="M2 -3.2L9.5 3.6L1 4.4Z" fill="#fff" stroke-width="0.9"/>
<ellipse cx="0" cy="0" rx="4.8" ry="5.4" fill="#333" stroke-width="1.2"/>
<ellipse cx="-0.8" cy="-0.6" rx="2" ry="2.4" fill="#eee" stroke-width="0.8"/>
<path d="M-4 -2L-1 -5M-4.6 1L-3 3.8M1 5.2L3.6 3.4" stroke="#fff" stroke-width="0.7"/>
</g>
<path d="M878 361L886.5 402" stroke-width="0.9"/>
<path d="M879.5 361L907.5 396.5" stroke-width="0.9"/>
<text x="872.8" y="354.5" font-size="18" text-anchor="middle">143</text>
<path d="M983.5 334 Q983.5 329.5 990 329.5 Q996.5 329.5 996.5 334 Q996.5 337.5 990 337.5 Q983.5 337.5 983.5 334Z" stroke-width="1" fill="#fff"/>
<path d="M986.8 337.5 L986.8 341 L993.2 341 L993.2 337.5 M987.8 341 L987.8 362.5 Q990 364.5 992.2 362.5 L992.2 341" stroke-width="1" fill="#fff"/>
<path d="M987.8 346.6L992.2 345.6" stroke-width="0.8"/>
<path d="M987.8 349.6L992.2 348.6" stroke-width="0.8"/>
<path d="M987.8 352.6L992.2 351.6" stroke-width="0.8"/>
<path d="M987.8 355.6L992.2 354.6" stroke-width="0.8"/>
<path d="M987.8 358.6L992.2 357.6" stroke-width="0.8"/>
<path d="M987.8 361.6L992.2 360.6" stroke-width="0.8"/>
<path d="M1004.5 284L991.5 329" stroke-width="0.9"/>
<text x="1016" y="276.5" font-size="18" text-anchor="middle">185</text>
<path d="M866.5 538.5L953.8 510.3L956.7 520.3L869.3 549.5Z" stroke-width="1" fill="#555"/>
<path d="M865.9 538.5L869.9 549.5" stroke-width="0.9" stroke="#111"/>
<path d="M867.8 537.9L871.8 548.9" stroke-width="0.9" stroke="#fff"/>
<path d="M869.8 537.2L873.8 548.2" stroke-width="0.9" stroke="#111"/>
<path d="M871.7 536.6L875.7 547.6" stroke-width="0.9" stroke="#fff"/>
<path d="M873.7 536L877.7 546.9" stroke-width="0.9" stroke="#111"/>
<path d="M875.6 535.4L879.6 546.3" stroke-width="0.9" stroke="#fff"/>
<path d="M877.5 534.7L881.6 545.6" stroke-width="0.9" stroke="#111"/>
<path d="M879.5 534.1L883.5 545" stroke-width="0.9" stroke="#fff"/>
<path d="M881.4 533.5L885.4 544.3" stroke-width="0.9" stroke="#111"/>
<path d="M883.4 532.9L887.4 543.7" stroke-width="0.9" stroke="#fff"/>
<path d="M885.3 532.2L889.3 543" stroke-width="0.9" stroke="#111"/>
<path d="M887.2 531.6L891.3 542.4" stroke-width="0.9" stroke="#fff"/>
<path d="M889.2 531L893.2 541.7" stroke-width="0.9" stroke="#111"/>
<path d="M891.1 530.4L895.1 541.1" stroke-width="0.9" stroke="#fff"/>
<path d="M893.1 529.7L897.1 540.4" stroke-width="0.9" stroke="#111"/>
<path d="M895 529.1L899 539.8" stroke-width="0.9" stroke="#fff"/>
<path d="M896.9 528.5L901 539.1" stroke-width="0.9" stroke="#111"/>
<path d="M898.9 527.8L902.9 538.5" stroke-width="0.9" stroke="#fff"/>
<path d="M900.8 527.2L904.9 537.8" stroke-width="0.9" stroke="#111"/>
<path d="M902.8 526.6L906.8 537.2" stroke-width="0.9" stroke="#fff"/>
<path d="M904.7 526L908.7 536.5" stroke-width="0.9" stroke="#111"/>
<path d="M906.6 525.3L910.7 535.9" stroke-width="0.9" stroke="#fff"/>
<path d="M908.6 524.7L912.6 535.2" stroke-width="0.9" stroke="#111"/>
<path d="M910.5 524.1L914.6 534.6" stroke-width="0.9" stroke="#fff"/>
<path d="M912.5 523.5L916.5 533.9" stroke-width="0.9" stroke="#111"/>
<path d="M914.4 522.8L918.5 533.3" stroke-width="0.9" stroke="#fff"/>
<path d="M916.3 522.2L920.4 532.6" stroke-width="0.9" stroke="#111"/>
<path d="M918.3 521.6L922.3 532" stroke-width="0.9" stroke="#fff"/>
<path d="M920.2 521L924.3 531.3" stroke-width="0.9" stroke="#111"/>
<path d="M922.2 520.3L926.2 530.7" stroke-width="0.9" stroke="#fff"/>
<path d="M924.1 519.7L928.2 530" stroke-width="0.9" stroke="#111"/>
<path d="M926 519.1L930.1 529.4" stroke-width="0.9" stroke="#fff"/>
<path d="M928 518.4L932.1 528.7" stroke-width="0.9" stroke="#111"/>
<path d="M929.9 517.8L934 528.1" stroke-width="0.9" stroke="#fff"/>
<path d="M931.9 517.2L935.9 527.4" stroke-width="0.9" stroke="#111"/>
<path d="M933.8 516.6L937.9 526.8" stroke-width="0.9" stroke="#fff"/>
<path d="M935.7 515.9L939.8 526.1" stroke-width="0.9" stroke="#111"/>
<path d="M937.7 515.3L941.8 525.5" stroke-width="0.9" stroke="#fff"/>
<path d="M939.6 514.7L943.7 524.8" stroke-width="0.9" stroke="#111"/>
<path d="M941.6 514.1L945.6 524.2" stroke-width="0.9" stroke="#fff"/>
<path d="M943.5 513.4L947.6 523.5" stroke-width="0.9" stroke="#111"/>
<path d="M945.4 512.8L949.5 522.9" stroke-width="0.9" stroke="#fff"/>
<path d="M947.4 512.2L951.5 522.2" stroke-width="0.9" stroke="#111"/>
<path d="M949.3 511.6L953.4 521.6" stroke-width="0.9" stroke="#fff"/>
<path d="M951.3 510.9L955.4 520.9" stroke-width="0.9" stroke="#111"/>
<path d="M953.2 510.3L957.3 520.3" stroke-width="0.9" stroke="#fff"/>
<path d="M866.5 538.5L953.8 510.3L956.7 520.3L869.3 549.5Z" stroke-width="1.1" fill="none"/>
<path d="M869 548.5 L861 550.5 Q856.5 552.5 858.5 555.5 L872 556.5 L872 554.5 L860.5 553.5" stroke-width="1" fill="none"/>
<path d="M955 510 L957 505.5 L962 504.5 Q965 506 963 509 L960 510.5" stroke-width="1" fill="none"/>
<path d="M896.6 541.8L900.9 567.6" stroke-width="0.9"/>
<text x="900" y="587.7" font-size="18" text-anchor="middle">161</text>
<path d="M737.5 604.8L746.1 599.7L752.4 603.4L761.9 639.2L769.1 643.5L770.5 649.3L763 651L753.3 645L749 649.3L745.5 647Z" stroke-width="1" fill="#fff"/>
<path d="M739.5 606.5 L747.5 647.5 M753.3 645 L753 638.5 L761.9 639.2 M763 651 L762.5 645.5 L769.1 643.5" stroke-width="0.9" fill="none"/>
<ellipse cx="745.5" cy="607" rx="1.6" ry="2.2" stroke-width="1" fill="none"/>
<path d="M720.4 644.4L743.3 640.7" stroke-width="0.9"/>
<text x="699.7" y="653.5" font-size="18" text-anchor="middle">328</text>
<path d="M781.4 643.5L800.6 633.5L802 652.1L782.5 663Z" stroke-width="1" fill="#fff"/>
<path d="M794 627 L794.5 637 M794 627 L803.5 621 L811.5 622.5 L813.5 632 L808 640.5 L801.5 640" stroke-width="1" fill="#fff"/>
<ellipse cx="805.6" cy="630.6" rx="5.6" ry="7" stroke-width="1.6" fill="#fff" transform="rotate(20 805.6 630.6)"/>
<ellipse cx="805.2" cy="631" rx="3.2" ry="4.4" stroke-width="1.6" fill="#666" transform="rotate(20 805.2 631)"/>
<ellipse cx="795.3" cy="644.2" rx="1.8" ry="2.4" stroke-width="1.1" fill="none"/>
<ellipse cx="787.3" cy="655" rx="1.4" ry="1.8" stroke-width="1.1" fill="none"/>
<path d="M816.3 594.8L809.2 619.2" stroke-width="0.9"/>
<text x="824.4" y="589.1" font-size="18" text-anchor="middle">337</text>
<path d="M919.4 693.7L933.7 683.5L940.9 682.5L943.9 719.3L922.5 732.6L920 731.6Z" stroke-width="1" fill="#fff"/>
<path d="M921.8 695L922.5 732.6" stroke-width="0.8"/>
<path d="M921.8 695L935 685.5" stroke-width="0.8"/>
<ellipse cx="925.9" cy="696.8" rx="1.8" ry="2.4" stroke-width="1.1" fill="none"/>
<ellipse cx="937.8" cy="689.6" rx="1.8" ry="2.4" stroke-width="1.1" fill="none"/>
<path d="M941.5 697 L943 698 L943.2 703" stroke-width="0.9" fill="none"/>
<path d="M942.9 692.7L976.7 714.2" stroke-width="1.1" stroke-dasharray="9 4"/>
<path d="M927.6 697.8L964.4 721.3" stroke-width="1.1" stroke-dasharray="9 4"/>
<g transform="translate(981.9 716.6) rotate(35) scale(1)">
<path d="M2 -3.2L9.5 3.6L1 4.4Z" fill="#fff" stroke-width="0.9"/>
<ellipse cx="0" cy="0" rx="4.8" ry="5.4" fill="#333" stroke-width="1.2"/>
<ellipse cx="-0.8" cy="-0.6" rx="2" ry="2.4" fill="#eee" stroke-width="0.8"/>
<path d="M-4 -2L-1 -5M-4.6 1L-3 3.8M1 5.2L3.6 3.4" stroke="#fff" stroke-width="0.7"/>
</g>
<g transform="translate(969.2 725.3) rotate(35) scale(1)">
<path d="M2 -3.2L9.5 3.6L1 4.4Z" fill="#fff" stroke-width="0.9"/>
<ellipse cx="0" cy="0" rx="4.8" ry="5.4" fill="#333" stroke-width="1.2"/>
<ellipse cx="-0.8" cy="-0.6" rx="2" ry="2.4" fill="#eee" stroke-width="0.8"/>
<path d="M-4 -2L-1 -5M-4.6 1L-3 3.8M1 5.2L3.6 3.4" stroke="#fff" stroke-width="0.7"/>
</g>
<path d="M986.9 676.9L941.9 691.7" stroke-width="0.9"/>
<text x="1009.2" y="681.2" font-size="18" text-anchor="middle">195</text>
<path d="M998.7 745L986.7 722" stroke-width="0.9"/>
<path d="M998.7 745L974.7 729.7" stroke-width="0.9"/>
<text x="1000" y="763.1" font-size="18" text-anchor="middle">143</text>
<ellipse cx="842.2" cy="727.6" rx="5.5" ry="3.9" stroke-width="1" fill="#fff"/>
<path d="M846.8 726L844.5 729L839.9 729L837.6 726L839.9 723L844.5 723Z" stroke-width="1.2" fill="#fff"/>
<ellipse cx="842.2" cy="726" rx="2.3" ry="1.7" stroke-width="1.2" fill="#333"/>
<ellipse cx="816.8" cy="740.7" rx="5.5" ry="3.9" stroke-width="1" fill="#fff"/>
<path d="M821.4 739.1L819.1 742.1L814.5 742.1L812.2 739.1L814.5 736.1L819.1 736.1Z" stroke-width="1.2" fill="#fff"/>
<ellipse cx="816.8" cy="739.1" rx="2.3" ry="1.7" stroke-width="1.2" fill="#333"/>
<path d="M881.9 752.2L847 728.6" stroke-width="0.9"/>
<path d="M881.9 752.2L824 740.6" stroke-width="0.9"/>
<text x="902.6" y="759.8" font-size="18" text-anchor="middle">116</text>
<path d="M741 709.5L862.2 782.1" stroke-width="1.1" stroke-dasharray="9 4"/>
<g transform="translate(871 788) rotate(200) scale(1.1)">
<path d="M2 -3.2L9.5 3.6L1 4.4Z" fill="#fff" stroke-width="0.9"/>
<ellipse cx="0" cy="0" rx="4.8" ry="5.4" fill="#333" stroke-width="1.2"/>
<ellipse cx="-0.8" cy="-0.6" rx="2" ry="2.4" fill="#eee" stroke-width="0.8"/>
<path d="M-4 -2L-1 -5M-4.6 1L-3 3.8M1 5.2L3.6 3.4" stroke="#fff" stroke-width="0.7"/>
</g>
<path d="M870.3 794.1L862.2 827.9" stroke-width="0.9"/>
<text x="852.6" y="846" font-size="18" text-anchor="middle">263</text>
<g transform="translate(688 867.5) rotate(200) scale(1.1)">
<path d="M1 -2L8 1L7 4L1 3Z" fill="#fff" stroke-width="1"/>
<ellipse cx="-1" cy="0.5" rx="4" ry="5" fill="#fff" stroke-width="1.1"/>
<ellipse cx="-2.2" cy="0" rx="3" ry="4" fill="#333" stroke-width="1.1"/>
<ellipse cx="-2.6" cy="-0.3" rx="1.2" ry="1.8" fill="#fff" stroke="none"/>
</g>
<path d="M695 868L752.3 860.8" stroke-width="0.9"/>
<text x="773" y="862.8" font-size="18" text-anchor="middle">125</text>
</g>
<g id="14_rightupper">
<path d="M1302.8 253 L1284.5 181 Q1281.5 166 1290 162.5 Q1299 160 1301.5 171 L1320.5 263" stroke-width="3.2" stroke-linecap="butt"/>
<path d="M1302.8 253 L1284.5 181 Q1281.5 166 1290 162.5 Q1299 160 1301.5 171 L1320.5 263" stroke-width="1.4" stroke="#fff" stroke-linecap="butt"/>
<ellipse cx="1317.9" cy="264.7" rx="6.4" ry="3.6" stroke-width="1" fill="none" transform="rotate(-5 1317.9 264.7)"/>
<ellipse cx="1317.5" cy="264.2" rx="3.2" ry="1.6" stroke-width="1" fill="none"/>
<path d="M1322.5 261.5 L1331 257.5 Q1335.5 258 1335 263.5 M1324 264.5 L1330.5 260.5 Q1332.5 261 1332.3 265.5 L1335 263.5" stroke-width="1" fill="none"/>
<path d="M1326 192L1326 262" stroke-width="1.1" stroke-dasharray="8 4"/>
<path d="M1318.6 271L1318.6 292" stroke-width="1.1" stroke-dasharray="8 4"/>
<path d="M1323.6 178V188.5Q1326 190.5 1328.4 188.5V178Z" fill="#222" stroke-width="1"/>
<path d="M1321 166.5L1323.5 164.5L1328.5 164.5L1331 166.5L1331 172L1328.5 174L1323.5 174L1321 172Z" stroke-width="1.2" fill="#fff"/>
<path d="M1323 167.5 L1329 171.5 M1329 167.5 L1323 171.5" stroke-width="1" fill="none"/>
<ellipse cx="1326" cy="175.5" rx="6" ry="2.2" stroke-width="1.2" fill="#fff"/>
<ellipse cx="1326.4" cy="221.2" rx="8" ry="4.4" stroke-width="1" fill="#fff"/>
<ellipse cx="1326.4" cy="220" rx="8" ry="4.4" stroke-width="1" fill="#fff"/>
<ellipse cx="1326.4" cy="220" rx="2.6" ry="1.3" stroke-width="1.1" fill="#888"/>
<path d="M1362.6 169.3L1332.8 171.6" stroke-width="0.9"/>
<path d="M1357.4 208.8L1334.7 217.5" stroke-width="0.9"/>
<path d="M1243.5 191.6L1288.1 207.2" stroke-width="0.9"/>
<text x="1378.5" y="173.9" font-size="18" text-anchor="middle">263</text>
<text x="1378.5" y="211.5" font-size="18" text-anchor="middle">275</text>
<text x="1222.8" y="195.5" font-size="18" text-anchor="middle">268</text>
</g>
<g id="15_rightgroup">
<path d="M1106.3 668L1117 662.7L1118.5 679.6L1138.8 692.6L1140.8 697L1140.8 753.7L1128.6 760.1L1127.2 701.4L1107.4 686.8Z" stroke-width="1" fill="#fff"/>
<path d="M1118.5 679.6 L1108.5 685.5 M1138.8 692.6 L1128.5 699 L1127.2 701.4 M1128.5 699 L1129.8 759" stroke-width="0.8" fill="none"/>
<ellipse cx="1113.2" cy="674.6" rx="1.6" ry="2" stroke-width="1" fill="none"/>
<ellipse cx="1133.9" cy="736.2" rx="1.6" ry="2" stroke-width="1" fill="none"/>
<g transform="translate(1086.5 707.2) rotate(25) scale(0.9)">
<path d="M1 -2L8 1L7 4L1 3Z" fill="#fff" stroke-width="1"/>
<ellipse cx="-1" cy="0.5" rx="4" ry="5" fill="#fff" stroke-width="1.1"/>
<ellipse cx="-2.2" cy="0" rx="3" ry="4" fill="#333" stroke-width="1.1"/>
<ellipse cx="-2.6" cy="-0.3" rx="1.2" ry="1.8" fill="#fff" stroke="none"/>
</g>
<path d="M1096.7 714.4L1162 750.8" stroke-width="1.1" stroke-dasharray="9 4"/>
<path d="M1070.5 660.7L1085 704.3" stroke-width="0.9"/>
<text x="1061.2" y="657.8" font-size="18" text-anchor="middle">125</text>
<path d="M1092.3 756L1127.2 749.3" stroke-width="0.9"/>
<text x="1072.8" y="764.4" font-size="18" text-anchor="middle">339</text>
<path d="M1234.1 720.3L1240.5 714.4L1256.5 711.5L1262.3 714.4L1263.2 721.7L1272.5 730.4L1287 731.9L1297.2 736.2L1297.8 740.6L1287 747.9L1284.1 753.7L1283.5 775.5L1279.7 777.8L1236.1 753.7L1234.1 747.9Z" stroke-width="1" fill="#fff"/>
<path d="M1235.5 721.5 L1279.5 746.5 Q1281.5 747 1284 745 L1296 737 M1279.5 746.5 L1280 777" stroke-width="0.8" fill="none"/>
<ellipse cx="1257.4" cy="716.2" rx="2.4" ry="1.4" stroke-width="1" fill="none"/>
<ellipse cx="1287" cy="733.5" rx="2.4" ry="1.4" stroke-width="1" fill="none"/>
<path d="M1254.5 733.5L1262.5 731L1262.5 741.5L1254.5 744Z" stroke-width="1.1" fill="#fff"/>
<path d="M1256.5 735.5L1261 737.5L1261 741.5L1256.5 742.5Z" stroke-width="0.8" fill="none"/>
<ellipse cx="1244.9" cy="752.2" rx="1.4" ry="1.9" stroke-width="1" fill="none"/>
<ellipse cx="1255.6" cy="751.3" rx="1.6" ry="2.2" stroke-width="1" fill="none"/>
<ellipse cx="1271" cy="756.6" rx="1.4" ry="1.9" stroke-width="1" fill="none"/>
<path d="M1255.7 670V685Q1257.9 687 1260.1000000000001 685V670Z" fill="#333" stroke-width="1"/>
<path d="M1252.9 663L1254.9 660.5L1260.9 660.5L1262.9 663L1262.9 667L1260.9 669.5L1254.9 669.5L1252.9 667Z" stroke-width="1.1" fill="#fff"/>
<ellipse cx="1257.9" cy="663" rx="3.4" ry="1.6" stroke-width="0.8" fill="none"/>
<path d="M1284.8 686.9V701.9Q1287 703.9 1289.2 701.9V686.9Z" fill="#333" stroke-width="1"/>
<path d="M1282 679.9L1284 677.4L1290 677.4L1292 679.9L1292 683.9L1290 686.4L1284 686.4L1282 683.9Z" stroke-width="1.1" fill="#fff"/>
<ellipse cx="1287" cy="679.9" rx="3.4" ry="1.6" stroke-width="0.8" fill="none"/>
<path d="M1257.9 687L1257.9 714.4" stroke-width="1.1" stroke-dasharray="8 4"/>
<path d="M1287 704.3L1287 731.3" stroke-width="1.1" stroke-dasharray="8 4"/>
<path d="M1313.1 660.1L1263.7 663" stroke-width="0.9"/>
<path d="M1313.1 661.3L1292.2 678.1" stroke-width="0.9"/>
<text x="1334.9" y="663" font-size="18" text-anchor="middle">227</text>
<path d="M1331.5 729.8L1298 736.2" stroke-width="0.9"/>
<text x="1353" y="733.3" font-size="18" text-anchor="middle">226</text>
<path d="M1243.4 752.2L1208.5 772.6" stroke-width="1.1" stroke-dasharray="9 4"/>
<path d="M1269.6 758L1228.9 781.3" stroke-width="1.1" stroke-dasharray="9 4"/>
<path d="M1162 745L1172.2 739.1L1174.3 742L1174.3 748.5L1256.5 797.8L1265.2 792.9L1266.7 794.4L1266.1 823.4L1255 831.6L1250.7 830.7L1163.5 779.2Z" stroke-width="1" fill="#fff"/>
<path d="M1163.5 746.5 L1255 801 L1255 831.6 M1255 801 L1265.5 794.5 M1163.5 746.5 L1172.5 741" stroke-width="0.8" fill="none"/>
<path d="M1174.3 748.5 L1256.5 797.8" stroke-width="1.6" fill="none"/>
<ellipse cx="1192.6" cy="781.9" rx="1.8" ry="2.4" stroke-width="1.2" fill="#888"/>
<ellipse cx="1203.6" cy="781.9" rx="1.8" ry="2.4" stroke-width="1.2" fill="#888"/>
<ellipse cx="1219.3" cy="787.1" rx="1.8" ry="2.4" stroke-width="1.2" fill="#888"/>
<ellipse cx="1260.8" cy="808.9" rx="2.6" ry="3.8" stroke-width="1.1" fill="none"/>
<path d="M1191.1 782.7L1162 800.2" stroke-width="1.1" stroke-dasharray="9 4"/>
<path d="M1217.3 788.5L1160.6 820.5" stroke-width="1.1" stroke-dasharray="9 4"/>
<path d="M1208.5 772.6L1196 780" stroke-width="1.0" stroke-dasharray="9 4"/>
<g transform="translate(1154.8 803.1) rotate(150) scale(1)">
<path d="M1 -2L8 1L7 4L1 3Z" fill="#fff" stroke-width="1"/>
<ellipse cx="-1" cy="0.5" rx="4" ry="5" fill="#fff" stroke-width="1.1"/>
<ellipse cx="-2.2" cy="0" rx="3" ry="4" fill="#333" stroke-width="1.1"/>
<ellipse cx="-2.6" cy="-0.3" rx="1.2" ry="1.8" fill="#fff" stroke="none"/>
</g>
<g transform="translate(1151.9 825.7) rotate(150) scale(1)">
<path d="M1 -2L8 1L7 4L1 3Z" fill="#fff" stroke-width="1"/>
<ellipse cx="-1" cy="0.5" rx="4" ry="5" fill="#fff" stroke-width="1.1"/>
<ellipse cx="-2.2" cy="0" rx="3" ry="4" fill="#333" stroke-width="1.1"/>
<ellipse cx="-2.6" cy="-0.3" rx="1.2" ry="1.8" fill="#fff" stroke="none"/>
</g>
<path d="M1109.7 815.3L1151.9 807.4" stroke-width="0.9"/>
<path d="M1109.7 819L1148.1 826.9" stroke-width="0.9"/>
<text x="1094.3" y="824.9" font-size="18" text-anchor="middle">125</text>
<path d="M1190.2 721.1L1184.4 756" stroke-width="0.9"/>
<text x="1197.5" y="715.9" font-size="18" text-anchor="middle">355</text>
<path d="M1286.4 794.4L1300.1 785.6L1307.3 787.1L1310.2 784.2L1319.5 779.8L1321.9 782.7L1322.4 795.8L1310.2 803.7L1300.1 797.3L1298.6 846.7L1288.5 851.9L1286.4 849.6Z" stroke-width="1" fill="#fff"/>
<path d="M1288.5 796.5 L1288.5 851.9 M1288.5 796.5 L1300.1 789 L1309.5 791 L1310.2 803.7 M1309.5 791 L1321 783.5" stroke-width="0.8" fill="none"/>
<ellipse cx="1316.1" cy="792" rx="1.6" ry="2" stroke-width="1" fill="none"/>
<ellipse cx="1294.8" cy="827.8" rx="1.6" ry="2" stroke-width="1" fill="none"/>
<path d="M1263.8 810.3L1281.2 820.5" stroke-width="1.1" stroke-dasharray="9 4"/>
<path d="M1295.7 828.6L1326.2 845.2" stroke-width="1.1" stroke-dasharray="9 4"/>
<g transform="translate(1330.6 849) rotate(30) scale(1)">
<path d="M1 -2L8 1L7 4L1 3Z" fill="#fff" stroke-width="1"/>
<ellipse cx="-1" cy="0.5" rx="4" ry="5" fill="#fff" stroke-width="1.1"/>
<ellipse cx="-2.2" cy="0" rx="3" ry="4" fill="#333" stroke-width="1.1"/>
<ellipse cx="-2.6" cy="-0.3" rx="1.2" ry="1.8" fill="#fff" stroke="none"/>
</g>
<path d="M1355.3 782.7L1322.4 787.7" stroke-width="0.9"/>
<text x="1376.8" y="784.8" font-size="18" text-anchor="middle">339</text>
<path d="M1371.3 843.8L1336.4 849" stroke-width="0.9"/>
<text x="1392.2" y="849.6" font-size="18" text-anchor="middle">125</text>
</g>
<g id="20_shaft64">
<path d="M236 894 L296.5 920.5 Q302 923 305.5 927.5 L339 967 Q348 980.5 337 990.5 L304.5 1018 Q298.5 1024 305 1029.5 L347 1055" stroke-width="9" stroke-linecap="butt"/>
<path d="M236 894 L296.5 920.5 Q302 923 305.5 927.5 L339 967 Q348 980.5 337 990.5 L304.5 1018 Q298.5 1024 305 1029.5 L347 1055" stroke-width="7" stroke="#fff" stroke-linecap="butt"/>
<ellipse cx="235.2" cy="893.8" rx="2.6" ry="4.6" stroke-width="1" fill="#fff" transform="rotate(-20 235.2 893.8)"/>
<path d="M349 1056.5 L384 1077" stroke-width="8" stroke-linecap="butt"/>
<path d="M349 1056.5 L384 1077" stroke-width="6" stroke="#fff" stroke-linecap="butt"/>
<path d="M386 1079.5 L446 1113" stroke-width="10" stroke-linecap="butt"/>
<path d="M386 1079.5 L446 1113" stroke-width="8" stroke="#fff" stroke-linecap="butt"/>
<path d="M446 1113 L497.6 1141" stroke-width="12" stroke-linecap="butt"/>
<path d="M446 1113 L497.6 1141" stroke-width="10" stroke="#fff" stroke-linecap="butt"/>
<path d="M497.6 1141 L569.7 1182.1" stroke-width="12" stroke-linecap="butt"/>
<path d="M497.6 1141 L569.7 1182.1" stroke-width="10" stroke="#fff" stroke-linecap="butt"/>
<ellipse cx="569.9" cy="1182.2" rx="4.6" ry="6.6" stroke-width="1.1" fill="#fff" transform="rotate(-25 569.9 1182.2)"/>
<ellipse cx="571.6" cy="1183.2" rx="3.2" ry="4.6" stroke-width="1" fill="#fff" transform="rotate(-25 571.6 1183.2)"/>
<path d="M565.5 1177.5 L570 1176 M566 1187.5 L572 1189" stroke-width="1" fill="none"/>
<ellipse cx="348.1" cy="1056.2" rx="5" ry="9" stroke-width="1.2" fill="#fff" transform="rotate(-25 348.1 1056.2)"/>
<ellipse cx="350.5" cy="1057.3" rx="4.4" ry="8.4" stroke-width="1.2" fill="#fff" transform="rotate(-25 350.5 1057.3)"/>
<ellipse cx="496.6" cy="1139.6" rx="5" ry="9" stroke-width="1.2" fill="#fff" transform="rotate(-25 496.6 1139.6)"/>
<ellipse cx="499" cy="1140.7" rx="4.4" ry="8.4" stroke-width="1.2" fill="#fff" transform="rotate(-25 499 1140.7)"/>
<path d="M351.5 1058 L384 1077" stroke-width="8" stroke-linecap="butt"/>
<path d="M351.5 1058 L384 1077" stroke-width="6" stroke="#fff" stroke-linecap="butt"/>
<path d="M500 1142.3 L566 1180" stroke-width="12" stroke-linecap="butt"/>
<path d="M500 1142.3 L566 1180" stroke-width="10" stroke="#fff" stroke-linecap="butt"/>
<path d="M376.1 1055.5 Q377 1051 382 1051.5 Q387.5 1053 389.5 1059 L392.6 1069.6 L391.1 1077.1 L384.5 1082.5 L383.6 1086 L370.1 1090.6 L367.1 1096.6 L349.1 1101.1 L344.6 1095.1 L358.1 1080.1 L373.1 1077.1 L378.5 1071 Q380 1068 377.5 1064 Z" stroke-width="1.1" fill="#fff"/>
<path d="M349.1 1101.1 L347.5 1095.5 L360 1082.5 L374 1079.5 L381 1072 M384.5 1082.5 L378.5 1071" stroke-width="0.9" fill="none"/>
<ellipse cx="381.8" cy="1058.8" rx="1.8" ry="2.6" stroke-width="1" fill="none"/>
<path d="M433.1 1061.2L452.6 1072.6L436.1 1093.6L418.1 1077.1Z" stroke-width="1.1" fill="#fff"/>
<path d="M418.1 1077.1 L419.5 1082 L435 1096.5 L436.1 1093.6 M435 1096.5 L452.6 1075 L452.6 1072.6" stroke-width="0.9" fill="none"/>
<path d="M424.5 1088.5L436 1099L445 1089L455.6 1107.1L443.6 1120.6L424.1 1095Z" stroke-width="1" fill="#fff"/>
<path d="M436 1099 L446.5 1116.5" stroke-width="0.9" fill="none"/>
<ellipse cx="433.5" cy="1092" rx="1.6" ry="2.2" stroke-width="1.2" fill="#555"/>
<ellipse cx="420.5" cy="1078" rx="1.2" ry="1.8" stroke-width="1.2" fill="#555"/>
<path d="M446 1113 L497.6 1141" stroke-width="12" stroke-linecap="butt"/>
<path d="M446 1113 L497.6 1141" stroke-width="10" stroke="#fff" stroke-linecap="butt"/>
<ellipse cx="447.5" cy="1113.8" rx="3.6" ry="6" stroke-width="1" fill="#fff" transform="rotate(-25 447.5 1113.8)"/>
<ellipse cx="496.6" cy="1139.6" rx="5" ry="9" stroke-width="1.2" fill="#fff" transform="rotate(-25 496.6 1139.6)"/>
<ellipse cx="499" cy="1140.7" rx="4.4" ry="8.4" stroke-width="1.2" fill="#fff" transform="rotate(-25 499 1140.7)"/>
<path d="M500.5 1142.6 L566 1180" stroke-width="12" stroke-linecap="butt"/>
<path d="M500.5 1142.6 L566 1180" stroke-width="10" stroke="#fff" stroke-linecap="butt"/>
<path d="M358.3 1006.5 L354.2 1027.6 M359.8 1007 L355.6 1028" stroke-width="1.1" fill="none"/>
<circle cx="358.8" cy="1006.2" r="1.4" stroke-width="1" fill="#333"/>
<path d="M491.8 1077 L487.1 1098.1 M493.2 1077.5 L488.5 1098.5" stroke-width="1.1" fill="none"/>
<circle cx="492.3" cy="1076.8" r="1.4" stroke-width="1" fill="#333"/>
<ellipse cx="407.4" cy="1024.1" rx="5.8" ry="7.6" stroke-width="1" fill="#fff" transform="rotate(25 407.4 1024.1)"/>
<ellipse cx="408.2" cy="1023.7" rx="5.8" ry="7.6" stroke-width="1.1" fill="#fff" transform="rotate(25 408.2 1023.7)"/>
<ellipse cx="408.4" cy="1023.7" rx="2.2" ry="3.2" stroke-width="1.1" fill="#fff" transform="rotate(25 408.4 1023.7)"/>
<ellipse cx="523.8" cy="1109.6" rx="5.8" ry="7.6" stroke-width="1" fill="#fff" transform="rotate(25 523.8 1109.6)"/>
<ellipse cx="524.6" cy="1109.2" rx="5.8" ry="7.6" stroke-width="1.1" fill="#fff" transform="rotate(25 524.6 1109.2)"/>
<ellipse cx="524.8" cy="1109.2" rx="2.2" ry="3.2" stroke-width="1.1" fill="#fff" transform="rotate(25 524.8 1109.2)"/>
<path d="M399 1050 Q399 1045.5 404 1045 L418 1038 L421 1028.5 Q423 1023.5 428 1025 Q431.5 1026.5 431.5 1031 L431 1047.5 Q430.5 1051.5 426 1051 Q421.5 1050.5 420.5 1046.5 L407 1054.5 Q401 1057 399 1050Z" stroke-width="1.1" fill="#fff"/>
<path d="M400.5 1053 Q402 1058.5 408 1056.5 L420.5 1049" stroke-width="0.9" fill="none"/>
<ellipse cx="403.3" cy="1050.2" rx="2" ry="2.8" stroke-width="1.1" fill="none" transform="rotate(25 403.3 1050.2)"/>
<ellipse cx="426.5" cy="1032" rx="2" ry="2.8" stroke-width="1.1" fill="none" transform="rotate(25 426.5 1032)"/>
<ellipse cx="425.6" cy="1045.5" rx="2" ry="2.8" stroke-width="1.1" fill="none" transform="rotate(25 425.6 1045.5)"/>
<path d="M577.2 1186.6L597 1197.3" stroke-width="1.1" stroke-dasharray="7 4"/>
<ellipse cx="603.5" cy="1200.5" rx="4.6" ry="6.6" stroke-width="1.2" fill="#fff" transform="rotate(-25 603.5 1200.5)"/>
<path d="M601.5 1194.5 L607 1197 M604.5 1207 L610 1208.5" stroke-width="1" fill="none"/>
<ellipse cx="608.5" cy="1203.2" rx="4.6" ry="6.6" stroke-width="1.6" fill="#fff" transform="rotate(-25 608.5 1203.2)"/>
<ellipse cx="608.8" cy="1203.4" rx="2.4" ry="3.8" stroke-width="1.4" fill="#fff" transform="rotate(-25 608.8 1203.4)"/>
<ellipse cx="623.7" cy="1212.2" rx="5.2" ry="6.8" stroke-width="1.6" fill="#fff" transform="rotate(-25 623.7 1212.2)"/>
<ellipse cx="624.2" cy="1212.5" rx="3.4" ry="4.8" stroke-width="1" fill="#fff" transform="rotate(-25 624.2 1212.5)"/>
<path d="M629 1215 L634 1217.5" stroke-width="1" fill="none"/>
<path d="M340.1 1163 L340.1 1154.5 Q340.5 1151.5 343 1149.8 L383.6 1119.5 Q388.5 1115 385 1111.5 L379.5 1108.8" stroke-width="4.4" stroke-linecap="butt"/>
<path d="M340.1 1163 L340.1 1154.5 Q340.5 1151.5 343 1149.8 L383.6 1119.5 Q388.5 1115 385 1111.5 L379.5 1108.8" stroke-width="2.6" stroke="#fff" stroke-linecap="butt"/>
<ellipse cx="340.1" cy="1163" rx="2.2" ry="1.2" stroke-width="0.9" fill="#fff"/>
<path d="M375 1108 Q373.5 1110.5 377 1111 L381.5 1110" stroke-width="1" fill="none"/>
<path d="M272.5 986.5L320.5 1005.7" stroke-width="1.1"/>
<path d="M404.6 975.6L358.7 1006.6" stroke-width="1.1"/>
<path d="M470.6 998.5L414.5 1017.1" stroke-width="1.1"/>
<path d="M481.1 1030.6L431.6 1039.6" stroke-width="1.1"/>
<path d="M583.2 1049.5L493.1 1080.1" stroke-width="1.1"/>
<path d="M575.7 1099.6L532.1 1104.1" stroke-width="1.1"/>
<path d="M614.1 1159.6L608.7 1195.7" stroke-width="1.1"/>
<path d="M376.1 1176.1L366.5 1138.6" stroke-width="1.1"/>
<text x="407.6" y="972.6" font-size="18" text-anchor="middle">159</text>
<text x="253.3" y="991.6" font-size="18" text-anchor="middle">64</text>
<text x="491.6" y="1002.1" font-size="18" text-anchor="middle">203</text>
<text x="501.8" y="1035.7" font-size="18" text-anchor="middle">167</text>
<text x="600.3" y="1053.1" font-size="18" text-anchor="middle">159</text>
<text x="587.7" y="1103.5" font-size="18" text-anchor="middle">15</text>
<text x="613.8" y="1153.6" font-size="18" text-anchor="middle">165</text>
<text x="386.9" y="1195.1" font-size="18" text-anchor="middle">188</text>
<path d="M621.8 1222.6L610.9 1246.6" stroke-width="1.1"/>
<text x="600.7" y="1266.3" font-size="18" text-anchor="middle">166</text>
</g>
<g id="21_pulleys">
<path d="M733.1 1066.5 L736.3 1064.2 L782.4 1072.4 Q787 1073.2 789.5 1075.4 L826.7 1106.4 Q829.5 1108.5 828.5 1110.9 L819.6 1118 L816.1 1118.8 L775.3 1092.2 L764.6 1090.5 L734.5 1070.9 Z" stroke-width="1" fill="#fff"/>
<path d="M734.5 1070.9 L764.6 1090.5 L775.3 1092.2 L816.1 1118.8" stroke-width="2" fill="none" stroke-dasharray="1.4 1"/>
<ellipse cx="774.4" cy="1080.7" rx="8" ry="5" stroke-width="1.1" fill="#fff"/>
<ellipse cx="748.2" cy="1071.3" rx="2.4" ry="2" stroke-width="1.3" fill="none"/>
<ellipse cx="739.3" cy="1067.9" rx="1.4" ry="1" stroke-width="1" fill="#222"/>
<ellipse cx="817.9" cy="1110.9" rx="2.6" ry="2.2" stroke-width="1.6" fill="none"/>
<path d="M805.4 1133.9L830.3 1117.1L840.9 1119.7L842.7 1121.5L842.7 1141.9L834.7 1140.1L832.9 1132.1L824.1 1139.2L814.3 1142.8L806.3 1137.5Z" stroke-width="1" fill="#fff"/>
<path d="M805.4 1133.9 L814.5 1139.5 L824.5 1136 L840.9 1119.7 M814.5 1139.5 L814.3 1142.8 M832.9 1132.1 L832.5 1124.5" stroke-width="0.9" fill="none"/>
<ellipse cx="818.4" cy="1135.7" rx="2.6" ry="1.8" stroke-width="1.1" fill="none"/>
<path d="M836.3 1128.5 Q837.5 1127 838.5 1128.5 L838.5 1138 Q837.5 1139.5 836.3 1138Z" stroke-width="1" fill="none"/>
<path d="M745.1 1165.8L775.3 1132.1L783.3 1128.6L790.4 1134.8L790.9 1150.8L755.8 1172.9L754 1194.2L745.1 1190.7Z" stroke-width="1" fill="#fff"/>
<path d="M775.3 1132.1 L776 1127.5 L783.3 1128.6 M775.3 1132.1 L788 1149 M755.8 1172.9 L746.5 1167.5" stroke-width="0.9" fill="none"/>
<path d="M786.5 1131.5 L786.5 1147" stroke-width="1.6" fill="none"/>
<path d="M778.5 1143.5L785 1137.5L785 1145.5Z" stroke-width="1.3" fill="none"/>
<ellipse cx="774" cy="1154.7" rx="2.6" ry="1.6" stroke-width="1.1" fill="none"/>
<path d="M749 1178 Q750.1 1176.5 751.2 1178 L751.2 1187.5 Q750.1 1189 749 1187.5Z" stroke-width="1" fill="none"/>
<path d="M774.4 1056L774.4 1217" stroke-width="1.2" stroke-dasharray="9 4"/>
<path d="M774.4 1268.7L774.4 1276.7" stroke-width="1.2" stroke-dasharray="9 4"/>
<path d="M818.4 1088.7L818.4 1131.3" stroke-width="1.2" stroke-dasharray="9 4"/>
<path d="M818.4 1141.9L818.4 1159.6" stroke-width="1.2" stroke-dasharray="9 4"/>
<path d="M818.4 1205.7L818.4 1213.7" stroke-width="1.2" stroke-dasharray="9 4"/>
<ellipse cx="774.4" cy="1043.5" rx="17" ry="9.8" stroke-width="1.1" fill="#fff"/>
<ellipse cx="774.4" cy="1042" rx="17" ry="9.8" stroke-width="1.6" fill="#fff"/>
<ellipse cx="774.4" cy="1037.6" rx="17" ry="9.8" stroke-width="1.6" fill="#fff"/>
<ellipse cx="774.4" cy="1038.2" rx="13.5" ry="7.6" stroke-width="1.2" fill="#fff"/>
<ellipse cx="774.4" cy="1038.4" rx="9.5" ry="5.4" stroke-width="2" fill="#fff"/>
<ellipse cx="774.4" cy="1036.2" rx="6" ry="3.4" stroke-width="1.6" fill="#fff"/>
<ellipse cx="774.4" cy="1035.5" rx="3" ry="1.7" stroke-width="1.4" fill="#fff"/>
<path d="M815.6 1066 L815.6 1069.5 L821.2 1069.5 L821.2 1066 M816.2 1069.5 V1085 Q818.4 1087 820.6 1085 V1069.5" stroke-width="1" fill="#fff"/>
<path d="M816.2 1072.5L820.6 1071.6" stroke-width="0.8"/>
<path d="M816.2 1075L820.6 1074.1" stroke-width="0.8"/>
<path d="M816.2 1077.5L820.6 1076.6" stroke-width="0.8"/>
<path d="M816.2 1080L820.6 1079.1" stroke-width="0.8"/>
<path d="M816.2 1082.5L820.6 1081.6" stroke-width="0.8"/>
<path d="M816.2 1085L820.6 1084.1" stroke-width="0.8"/>
<ellipse cx="818.4" cy="1063.3" rx="7.4" ry="4.2" stroke-width="1.1" fill="#fff"/>
<ellipse cx="818.4" cy="1187" rx="29.5" ry="16" stroke-width="1" fill="#fff"/>
<ellipse cx="818.4" cy="1185.8" rx="29.5" ry="16" stroke-width="2.4" fill="#fff"/>
<ellipse cx="818.4" cy="1179.8" rx="26.6" ry="14.4" stroke-width="1.2" fill="#fff"/>
<ellipse cx="818.4" cy="1173.8" rx="29.5" ry="16" stroke-width="2" fill="#fff"/>
<ellipse cx="818.4" cy="1174.6" rx="26.6" ry="14.1" stroke-width="1.2" fill="#fff"/>
<ellipse cx="818.4" cy="1175.3" rx="23.6" ry="12.5" stroke-width="2.2" fill="#fff"/>
<path d="M830.6 1177L841.6 1177.5" stroke-width="1.8"/>
<path d="M825.5 1181.3L831.9 1185.5" stroke-width="1.8"/>
<path d="M816.2 1182.4L814.3 1187.6" stroke-width="1.8"/>
<path d="M808.3 1179.7L799.1 1182.5" stroke-width="1.8"/>
<path d="M806.2 1174.6L795.2 1173.1" stroke-width="1.8"/>
<path d="M811.3 1170.3L804.9 1165.1" stroke-width="1.8"/>
<path d="M820.6 1169.2L822.5 1163" stroke-width="1.8"/>
<path d="M828.5 1171.9L837.7 1168.1" stroke-width="1.8"/>
<ellipse cx="818.4" cy="1176.3" rx="13.6" ry="7.4" stroke-width="2.4" fill="#fff"/>
<ellipse cx="818.4" cy="1176.3" rx="8.8" ry="4.8" stroke-width="1.4" fill="#fff"/>
<path d="M813.4 1166 V1173.5 Q818.4 1176.5 823.4 1173.5 V1166" stroke-width="1.1" fill="#fff"/>
<ellipse cx="818.4" cy="1166" rx="5" ry="2.6" stroke-width="1.1" fill="#fff"/>
<ellipse cx="818.4" cy="1165.8" rx="2.4" ry="1.3" stroke-width="1" fill="none"/>
<path d="M818.4 1159.6L818.4 1164" stroke-width="1.2" stroke-dasharray="9 4"/>
<ellipse cx="774.4" cy="1254.4" rx="29.4" ry="16" stroke-width="1" fill="#fff"/>
<ellipse cx="774.4" cy="1253.2" rx="29.4" ry="16" stroke-width="2.4" fill="#fff"/>
<ellipse cx="774.4" cy="1248.2" rx="26.5" ry="14.4" stroke-width="1.2" fill="#fff"/>
<ellipse cx="774.4" cy="1244.4" rx="29.4" ry="16" stroke-width="1" fill="#fff"/>
<ellipse cx="774.4" cy="1243.2" rx="29.4" ry="16" stroke-width="1.6" fill="#fff"/>
<ellipse cx="774.4" cy="1238.2" rx="26.5" ry="14.4" stroke-width="1.2" fill="#fff"/>
<ellipse cx="774.4" cy="1233.2" rx="29.4" ry="16" stroke-width="2" fill="#fff"/>
<ellipse cx="774.4" cy="1234" rx="26.5" ry="14.1" stroke-width="1.2" fill="#fff"/>
<ellipse cx="774.4" cy="1234.7" rx="23.5" ry="12.5" stroke-width="2.2" fill="#fff"/>
<path d="M786.6 1236.4L797.6 1236.9" stroke-width="1.8"/>
<path d="M781.5 1240.7L787.9 1244.9" stroke-width="1.8"/>
<path d="M772.3 1241.8L770.3 1247" stroke-width="1.8"/>
<path d="M764.3 1239.1L755.1 1241.9" stroke-width="1.8"/>
<path d="M762.2 1234L751.2 1232.5" stroke-width="1.8"/>
<path d="M767.3 1229.7L760.9 1224.5" stroke-width="1.8"/>
<path d="M776.5 1228.6L778.5 1222.4" stroke-width="1.8"/>
<path d="M784.5 1231.3L793.7 1227.5" stroke-width="1.8"/>
<ellipse cx="774.4" cy="1235.7" rx="13.5" ry="7.4" stroke-width="2.4" fill="#fff"/>
<ellipse cx="774.4" cy="1235.7" rx="8.8" ry="4.8" stroke-width="1.4" fill="#fff"/>
<path d="M745.2 1239 A29.4 16 0 0 0 803.6 1239" stroke-width="1.3" fill="none"/>
<path d="M745.2 1241.9 A29.4 16 0 0 0 803.6 1241.9" stroke-width="1.3" fill="none"/>
<path d="M745.2 1247.7 A29.4 16 0 0 0 803.6 1247.7" stroke-width="1.3" fill="none"/>
<path d="M745.2 1250.6 A29.4 16 0 0 0 803.6 1250.6" stroke-width="1.3" fill="none"/>
<ellipse cx="774.4" cy="1232" rx="5" ry="2.6" stroke-width="1.2" fill="#fff"/>
<ellipse cx="774.4" cy="1231.8" rx="2.4" ry="1.3" stroke-width="1" fill="none"/>
<path d="M774.4 1217L774.4 1231" stroke-width="1.2" stroke-dasharray="9 4"/>
<ellipse cx="818.4" cy="1220.9" rx="6" ry="3.6" stroke-width="1" fill="#fff"/>
<ellipse cx="818.4" cy="1218.5" rx="7" ry="4.4" stroke-width="1.1" fill="#fff"/>
<ellipse cx="818.4" cy="1218.5" rx="3.6" ry="2" stroke-width="1.1" fill="#fff"/>
<ellipse cx="774.4" cy="1283.2" rx="6" ry="3.6" stroke-width="1" fill="#fff"/>
<ellipse cx="774.4" cy="1280.8" rx="7" ry="4.4" stroke-width="1.1" fill="#fff"/>
<ellipse cx="774.4" cy="1280.8" rx="3.6" ry="2" stroke-width="1.1" fill="#fff"/>
<path d="M728.3 1031.6L756.7 1036.4" stroke-width="1.1"/>
<path d="M723.5 1091.3L748.7 1083.4" stroke-width="1.1"/>
<path d="M838.3 1038.1L822.3 1060.3" stroke-width="1.1"/>
<path d="M856.5 1102.9L818.4 1133.9" stroke-width="1.1"/>
<path d="M730.1 1142.8L756.7 1154" stroke-width="1.1"/>
<path d="M867.5 1204.9L846.2 1194.8" stroke-width="1.1"/>
<path d="M834.7 1257.2L820.5 1224.4" stroke-width="1.1"/>
<path d="M830.3 1271.4L782.4 1279.9" stroke-width="1.1"/>
<path d="M716.8 1271.4L750.5 1259.8" stroke-width="1.1"/>
<text x="710.5" y="1033.7" font-size="18" text-anchor="middle">186</text>
<text x="705.2" y="1103.8" font-size="18" text-anchor="middle">189</text>
<text x="849.8" y="1034.6" font-size="18" text-anchor="middle">49</text>
<text x="871.4" y="1098.1" font-size="18" text-anchor="middle">314</text>
<text x="717.1" y="1144" font-size="18" text-anchor="middle">90</text>
<text x="881" y="1215.1" font-size="18" text-anchor="middle">52</text>
<text x="841.3" y="1274.9" font-size="18" text-anchor="middle">51</text>
<text x="703.1" y="1280.2" font-size="18" text-anchor="middle">50</text>
</g>
<g id="22_shift">
<path d="M950 1163.9L971.5 1178.2" stroke-width="1.1" stroke-dasharray="8 4"/>
<path d="M988.2 1188.9L1003.7 1198" stroke-width="1.1" stroke-dasharray="8 4"/>
<path d="M1019.2 1206.8L1033.6 1214.7" stroke-width="1.1" stroke-dasharray="8 4"/>
<ellipse cx="980.3" cy="1183" rx="7.5" ry="9.5" stroke-width="1.4" fill="#fff" transform="rotate(25 980.3 1183)"/>
<ellipse cx="981.1" cy="1183.4" rx="5.9" ry="7.6" stroke-width="1.1" fill="#fff" transform="rotate(25 981.1 1183.4)"/>
<path d="M977.3 1181L984.3 1186" stroke-width="0.9"/>
<ellipse cx="1011.6" cy="1200.4" rx="8" ry="10" stroke-width="1.4" fill="#fff" transform="rotate(25 1011.6 1200.4)"/>
<ellipse cx="1012.4" cy="1200.8" rx="6.2" ry="8" stroke-width="1.1" fill="#fff" transform="rotate(25 1012.4 1200.8)"/>
<path d="M1008.6 1198.4L1015.6 1203.4" stroke-width="0.9"/>
<ellipse cx="1034.5" cy="1218.8" rx="5" ry="7" stroke-width="1" fill="#fff" transform="rotate(-25 1034.5 1218.8)"/>
<path d="M1049.4 1153.5 Q1051 1146 1058.5 1146.5 Q1066 1148 1065.6 1156 L1060.2 1226 Q1058.5 1233.5 1051 1233 Q1043.5 1231.5 1043 1224.5 Z" stroke-width="1.1" fill="#fff"/>
<path d="M1052 1154 Q1053.5 1149.5 1058.5 1149.5 M1052 1154 L1045.8 1224" stroke-width="0.8" fill="none"/>
<ellipse cx="1058.6" cy="1157.4" rx="1.6" ry="2" stroke-width="1" fill="none"/>
<ellipse cx="1052.2" cy="1224.7" rx="3.4" ry="4" stroke-width="1.6" fill="#999"/>
<path d="M1062.2 1157.9L1094.4 1177" stroke-width="1.1" stroke-dasharray="8 4"/>
<path d="M1055 1227.1L1087.3 1245" stroke-width="1.1" stroke-dasharray="8 4"/>
<path d="M1362.6 1055.9 L1293 1103.5 Q1289 1106.5 1286.5 1111 L1248 1178.5 Q1244.5 1184.5 1238 1182 L1212 1172.5 Q1207.5 1171 1204 1174.5 L1187.1 1190.6" stroke-width="6.6" stroke-linecap="butt"/>
<path d="M1362.6 1055.9 L1293 1103.5 Q1289 1106.5 1286.5 1111 L1248 1178.5 Q1244.5 1184.5 1238 1182 L1212 1172.5 Q1207.5 1171 1204 1174.5 L1187.1 1190.6" stroke-width="4.8" stroke="#fff" stroke-linecap="butt"/>
<path d="M1187.1 1190.6 L1150.6 1203.7" stroke-width="8.4" stroke-linecap="butt"/>
<path d="M1187.1 1190.6 L1150.6 1203.7" stroke-width="6.6" stroke="#fff" stroke-linecap="butt"/>
<ellipse cx="1150.6" cy="1203.7" rx="2.4" ry="4.2" stroke-width="1" fill="#fff" transform="rotate(-15 1150.6 1203.7)"/>
<ellipse cx="1186.5" cy="1190.8" rx="2.8" ry="5" stroke-width="1.8" fill="#fff" transform="rotate(-15 1186.5 1190.8)"/>
<path d="M1186 1196 L1190 1191" stroke-width="2" fill="none"/>
<path d="M1350.2 1060.3 L1354.2 1066.3" stroke-width="1.6" fill="none"/>
<path d="M1360.6 1053 L1364.6 1058.9" stroke-width="1" fill="none"/>
<circle cx="1153.5" cy="1201" r="0.9" stroke-width="0.9" fill="#111"/>
<path d="M1090.9 1193.7 L1098 1184.1 Q1110 1177 1120.5 1175.3 Q1127 1176 1126.7 1181 L1126.2 1186.5 L1117 1195 L1110.5 1196.5 L1108.8 1203 L1093.5 1205.5 L1089.5 1203 Z" stroke-width="1.1" fill="#fff"/>
<path d="M1097.5 1193.5 Q1108 1185 1120 1182.5 Q1122.5 1183.5 1121 1185.5 Q1109 1188.5 1099 1196.5 Q1096.5 1196.5 1097.5 1193.5Z" stroke-width="1.1" fill="#fff"/>
<path d="M1114.7 1199.7L1127.9 1204.4L1129.1 1215.2L1125.5 1224.7L1117.1 1221.1L1113.5 1222.3Z" stroke-width="1.1" fill="#fff"/>
<ellipse cx="1120.7" cy="1214" rx="2" ry="2.6" stroke-width="1.1" fill="none"/>
<path d="M1112.5 1197.5 L1114.7 1222 L1114.7 1246.2 L1110 1252.2 Q1105 1249.5 1102.8 1251 L1096.8 1257 L1086.1 1259.4 L1086.1 1243.8 L1089.7 1243.8 L1090.9 1234.3 L1098 1231.9 L1102.8 1224.7 L1101.6 1215.2 L1088.5 1208 L1089.5 1203" stroke-width="1.1" fill="#fff"/>
<path d="M1088.5 1208 L1086.1 1243.8 M1108.8 1222.5 L1113.5 1222.3 M1108.8 1220.5 L1108.8 1224.5" stroke-width="1" fill="none"/>
<ellipse cx="1093.2" cy="1224.7" rx="2.4" ry="3" stroke-width="1.1" fill="none"/>
<path d="M1120.7 1196.1L1164.9 1222.3" stroke-width="1.1" stroke-dasharray="8 4"/>
<path d="M1130.3 1210.4L1148.2 1202.8" stroke-width="1.1" stroke-dasharray="8 4"/>
<ellipse cx="1174.3" cy="1228.8" rx="6.5" ry="8.5" stroke-width="1" fill="#fff" transform="rotate(20 1174.3 1228.8)"/>
<ellipse cx="1175.4" cy="1228.3" rx="6.5" ry="8.5" stroke-width="1.2" fill="#fff" transform="rotate(20 1175.4 1228.3)"/>
<ellipse cx="1175.6" cy="1228.3" rx="3" ry="4" stroke-width="1.1" fill="#fff" transform="rotate(20 1175.6 1228.3)"/>
<path d="M1172.5 1225.5L1179 1231.5" stroke-width="0.9"/>
<path d="M1186.4 1235.5L1198.3 1243.8" stroke-width="1.1" stroke-dasharray="8 4"/>
<ellipse cx="1201.5" cy="1244.5" rx="3.6" ry="4.6" stroke-width="1.3" fill="#444" transform="rotate(20 1201.5 1244.5)"/>
<ellipse cx="1208.5" cy="1248.3" rx="5" ry="5.8" stroke-width="1.6" fill="#fff" transform="rotate(20 1208.5 1248.3)"/>
<ellipse cx="1208.8" cy="1248.5" rx="2.6" ry="3.2" stroke-width="1.2" fill="#fff" transform="rotate(20 1208.8 1248.5)"/>
<ellipse cx="1023.5" cy="1253.4" rx="7" ry="8.5" stroke-width="2" fill="#fff" transform="rotate(15 1023.5 1253.4)"/>
<ellipse cx="1024" cy="1253.6" rx="4.4" ry="5.8" stroke-width="1" fill="#fff" transform="rotate(15 1024 1253.6)"/>
<path d="M1032.4 1251L1080.1 1230.7" stroke-width="1.1" stroke-dasharray="8 4"/>
<path d="M1101.6 1255.8L1117.1 1265.3" stroke-width="1.1" stroke-dasharray="8 4"/>
<path d="M1127.5 1271.5L1136.5 1276.5" stroke-width="1.1" stroke-dasharray="9 4"/>
<path d="M1144.6 1280.8L1157.7 1289.2" stroke-width="1.1" stroke-dasharray="8 4"/>
<ellipse cx="1121.9" cy="1267.7" rx="5" ry="6.5" stroke-width="1.1" fill="#fff" transform="rotate(25 1121.9 1267.7)"/>
<ellipse cx="1122.3" cy="1267.8" rx="2.6" ry="3.6" stroke-width="1.1" fill="#fff" transform="rotate(25 1122.3 1267.8)"/>
<ellipse cx="1140.3" cy="1277.7" rx="3" ry="3.8" stroke-width="1.4" fill="#888" transform="rotate(20 1140.3 1277.7)"/>
<path d="M1158.9 1289.7 L1170 1296.5" stroke-width="4.2" fill="none" stroke="#333" stroke-dasharray="1.4 1"/>
<ellipse cx="1173.4" cy="1298.5" rx="3" ry="4.4" stroke-width="1.3" fill="#fff" transform="rotate(-20 1173.4 1298.5)"/>
<ellipse cx="1281.2" cy="1213" rx="7" ry="8" stroke-width="1.2" fill="#333" transform="rotate(10 1281.2 1213)"/>
<path d="M1275.5 1207L1287 1205.5" stroke-width="0.8" stroke="#fff"/>
<path d="M1275.5 1209L1287 1207.5" stroke-width="0.8" stroke="#fff"/>
<path d="M1275.5 1211L1287 1209.5" stroke-width="0.8" stroke="#fff"/>
<path d="M1275.5 1213L1287 1211.5" stroke-width="0.8" stroke="#fff"/>
<path d="M1275.5 1215L1287 1213.5" stroke-width="0.8" stroke="#fff"/>
<path d="M1275.5 1217L1287 1215.5" stroke-width="0.8" stroke="#fff"/>
<path d="M1275.5 1219L1287 1217.5" stroke-width="0.8" stroke="#fff"/>
<path d="M1275 1221.5 L1282.5 1220 M1286 1207.5 L1291.5 1200.5 Q1293 1199 1294.5 1201 L1298 1207.5 Q1300.5 1209.5 1302.5 1206.5 L1302 1199.5" stroke-width="1.2" fill="none"/>
<path d="M987.7 1136.4L982.2 1174.1" stroke-width="1.1"/>
<path d="M1019.2 1163.1L1014.5 1190.8" stroke-width="1.1"/>
<path d="M1062.2 1109.7L1057.9 1147.1" stroke-width="1.1"/>
<path d="M1124.3 1138.8L1120.7 1174.6" stroke-width="1.1"/>
<path d="M1216.2 1216.4L1182.8 1224.7" stroke-width="1.1"/>
<path d="M1240.1 1252.9L1213.8 1249.1" stroke-width="1.1"/>
<path d="M985.3 1245L1016.8 1250.5" stroke-width="1.1"/>
<path d="M1094.9 1292.8L1118.3 1272" stroke-width="1.1"/>
<path d="M1130.3 1311.9L1139.8 1280.8" stroke-width="1.1"/>
<path d="M1200.7 1303.5L1175.6 1298.7" stroke-width="1.1"/>
<text x="989.6" y="1130.4" font-size="18" text-anchor="middle">333</text>
<text x="1020.7" y="1157.2" font-size="18" text-anchor="middle">330</text>
<text x="1065.1" y="1104.2" font-size="18" text-anchor="middle">331</text>
<text x="1128.6" y="1132.8" font-size="18" text-anchor="middle">348</text>
<text x="1238.9" y="1218.8" font-size="18" text-anchor="middle">126</text>
<text x="1261.3" y="1261.3" font-size="18" text-anchor="middle">354</text>
<text x="966.7" y="1249.8" font-size="18" text-anchor="middle">174</text>
<text x="1078.9" y="1306.6" font-size="18" text-anchor="middle">141</text>
<text x="1126.2" y="1332.2" font-size="18" text-anchor="middle">140</text>
<text x="1222.2" y="1310.7" font-size="18" text-anchor="middle">313</text>
<circle cx="1383.8" cy="1036.2" r="20" stroke-width="1.1" fill="#fff"/>
<path d="M1341.5 982.3L1369 1021.4" stroke-width="1.1"/>
<text x="1331.3" y="977.6" font-size="18" text-anchor="middle">23</text>
<path d="M1298.5 1057.4L1311.2 1085.9" stroke-width="1.1"/>
<text x="1294.1" y="1051.4" font-size="18" text-anchor="middle">22</text>
<path d="M1329.8 1161.6L1302.3 1200.1" stroke-width="1.1"/>
<text x="1339.3" y="1155.7" font-size="18" text-anchor="middle">350</text>
</g>
<g id="23_midbottom">
<path d="M549 1497 Q552 1493 550 1492 Q545 1494.5 542.5 1501 Q542 1506 548 1505.5 L584 1486.5" stroke-width="2.6" fill="none"/>
<path d="M549 1497 Q552 1493 550 1492 Q545 1494.5 542.5 1501 Q542 1506 548 1505.5 L584 1486.5" stroke-width="1" fill="none" stroke="#fff"/>
<path d="M610 1465 L640 1442.5 Q646 1439 650 1443 Q651 1447 646 1449.5 L640.5 1451" stroke-width="2.6" fill="none"/>
<path d="M610 1465 L640 1442.5 Q646 1439 650 1443 Q651 1447 646 1449.5 L640.5 1451" stroke-width="1" fill="none" stroke="#fff"/>
<path d="M582.5 1481.5 L611 1466.5" stroke-width="11.5" fill="none" stroke-linecap="round" stroke="#222"/>
<path d="M580.4 1477.4L584.2 1486.2" stroke-width="0.8" stroke="#fff"/>
<path d="M583.1 1476L586.9 1484.8" stroke-width="0.8" stroke="#fff"/>
<path d="M585.8 1474.6L589.6 1483.4" stroke-width="0.8" stroke="#fff"/>
<path d="M588.4 1473.2L592.2 1482" stroke-width="0.8" stroke="#fff"/>
<path d="M591.1 1471.8L594.9 1480.6" stroke-width="0.8" stroke="#fff"/>
<path d="M593.8 1470.4L597.6 1479.2" stroke-width="0.8" stroke="#fff"/>
<path d="M596.5 1469.1L600.3 1477.9" stroke-width="0.8" stroke="#fff"/>
<path d="M599.2 1467.7L603 1476.5" stroke-width="0.8" stroke="#fff"/>
<path d="M601.9 1466.3L605.7 1475.1" stroke-width="0.8" stroke="#fff"/>
<path d="M604.5 1464.9L608.3 1473.7" stroke-width="0.8" stroke="#fff"/>
<path d="M607.2 1463.5L611 1472.3" stroke-width="0.8" stroke="#fff"/>
<path d="M609.9 1462.1L613.7 1470.9" stroke-width="0.8" stroke="#fff"/>
<ellipse cx="581.5" cy="1482.5" rx="3.2" ry="4.4" stroke-width="1" fill="#bbb" transform="rotate(-25 581.5 1482.5)"/>
<path d="M585.1 1424.6L592.4 1468" stroke-width="1.1"/>
<text x="583.1" y="1420.2" font-size="18" text-anchor="middle">17</text>
<path d="M823 1322 L828.5 1323 Q832.5 1325 831.5 1330.5 L806 1388 Q803.5 1392.5 799.5 1395.5 L711.5 1468 L662 1498 Q657 1501 657.5 1505 Q658 1508.5 661 1509.5 L665 1511.5" stroke-width="5.6" stroke-linecap="butt"/>
<path d="M823 1322 L828.5 1323 Q832.5 1325 831.5 1330.5 L806 1388 Q803.5 1392.5 799.5 1395.5 L711.5 1468 L662 1498 Q657 1501 657.5 1505 Q658 1508.5 661 1509.5 L665 1511.5" stroke-width="3.8" stroke="#fff" stroke-linecap="butt"/>
<ellipse cx="822.2" cy="1322" rx="2" ry="2.8" stroke-width="1.3" fill="#fff"/>
<ellipse cx="827.5" cy="1324.5" rx="2.6" ry="2" stroke-width="2" fill="#444"/>
<ellipse cx="665.5" cy="1511.5" rx="1.8" ry="2.8" stroke-width="1" fill="#fff" transform="rotate(-20 665.5 1511.5)"/>
<path d="M700.5 1417.7L718.9 1457" stroke-width="1.1"/>
<text x="692.4" y="1412" font-size="18" text-anchor="middle">29</text>
<ellipse cx="678.5" cy="1520.5" rx="7.8" ry="9.2" stroke-width="1.3" fill="#fff" transform="rotate(15 678.5 1520.5)"/>
<path d="M675 1512.5L681.5 1510.5L687.5 1514L688.5 1522L684.5 1528L678 1528.5L673.5 1523Z" stroke-width="1.6" fill="#fff"/>
<ellipse cx="681.3" cy="1519.5" rx="4" ry="5" stroke-width="1.4" fill="#fff" transform="rotate(15 681.3 1519.5)"/>
<path d="M675 1512.5 L677.5 1516 M687.5 1514 L684.5 1516.5 M678 1528.5 L679.5 1524.5" stroke-width="1" fill="none"/>
<path d="M679.6 1527L688.7 1568.7" stroke-width="1.1"/>
<text x="692.1" y="1586.4" font-size="18" text-anchor="middle">6</text>
<ellipse cx="699" cy="1525" rx="6" ry="8" stroke-width="1" fill="#fff" transform="rotate(20 699 1525)"/>
<ellipse cx="699.9" cy="1524.5" rx="6" ry="8" stroke-width="1.2" fill="#fff" transform="rotate(20 699.9 1524.5)"/>
<ellipse cx="700" cy="1524.5" rx="2.2" ry="3.2" stroke-width="1.6" fill="#fff" transform="rotate(20 700 1524.5)"/>
<path d="M757.7 1500.7L706.6 1520.8" stroke-width="1.1"/>
<text x="773.9" y="1502.4" font-size="18" text-anchor="middle">15</text>
<path d="M707.9 1536.8 L719.5 1531" stroke-width="2.2" fill="none"/>
<circle cx="720.3" cy="1530.5" r="2" stroke-width="1" fill="#222"/>
<path d="M748.4 1540L721.9 1533.1" stroke-width="1.1"/>
<text x="769.5" y="1550.3" font-size="18" text-anchor="middle">159</text>
<path d="M306.5 1282 L307 1275 Q308 1268 316 1268 Q319 1268.3 322 1270.3 L398 1325.8 Q400.5 1327.5 404 1326.5 L431 1318.3 Q435 1317.3 438 1319.5 L470 1341.3 Q472.5 1342.8 475.5 1342.6 L479 1342" stroke-width="4.8" stroke-linecap="butt"/>
<path d="M306.5 1282 L307 1275 Q308 1268 316 1268 Q319 1268.3 322 1270.3 L398 1325.8 Q400.5 1327.5 404 1326.5 L431 1318.3 Q435 1317.3 438 1319.5 L470 1341.3 Q472.5 1342.8 475.5 1342.6 L479 1342" stroke-width="3" stroke="#fff" stroke-linecap="butt"/>
<ellipse cx="306.5" cy="1282.3" rx="2.2" ry="1.6" stroke-width="1.1" fill="#fff"/>
<path d="M477 1341 L478.5 1337 L482 1336.5 L482 1344" stroke-width="1" fill="#fff"/>
<ellipse cx="479.6" cy="1345.3" rx="2" ry="1.8" stroke-width="1.3" fill="#fff"/>
<path d="M438.8 1260.9L430.1 1316.6" stroke-width="1.1"/>
<text x="447" y="1253.6" font-size="18" text-anchor="middle">99</text>
</g>
<g id="24_rightbottom">
<path d="M934.4 1452.3L953.1 1462.6" stroke-width="1.1" stroke-dasharray="8 4"/>
<path d="M944.5 1503.2L963.1 1513.3" stroke-width="1.1" stroke-dasharray="8 4"/>
<path d="M978.8 1523.3 L996 1531.9 L996 1627.9 L1017.5 1639.3" stroke-width="1.1" fill="none" stroke-dasharray="8 4"/>
<path d="M1049 1493.2L1067.7 1503.2" stroke-width="1.1" stroke-dasharray="8 4"/>
<path d="M1146.4 1415.9L1166.5 1427.3" stroke-width="1.1" stroke-dasharray="8 4"/>
<path d="M1080.5 1510.4 L1096.3 1519 L1096.3 1444.5 L1117.8 1456" stroke-width="1.1" fill="none" stroke-dasharray="8 4"/>
<path d="M1116 1558L1124 1562.5" stroke-width="1.1" stroke-dasharray="9 4"/>
<path d="M1163.6 1583.5L1177.9 1592.1" stroke-width="1.1" stroke-dasharray="8 4"/>
<path d="M1046.2 1597.8L1066.2 1609.2" stroke-width="1.1" stroke-dasharray="8 4"/>
<path d="M955.9 1466.6 L972 1475.5" stroke-width="10" stroke-linecap="butt"/>
<path d="M955.9 1466.6 L972 1475.5" stroke-width="8" stroke="#fff" stroke-linecap="butt"/>
<ellipse cx="955.5" cy="1466.4" rx="3.4" ry="5" stroke-width="1" fill="#fff" transform="rotate(-28 955.5 1466.4)"/>
<path d="M974 1477 L1072 1532" stroke-width="10" stroke-linecap="butt"/>
<path d="M974 1477 L1072 1532" stroke-width="8" stroke="#fff" stroke-linecap="butt"/>
<path d="M965.9 1472 Q965.9 1469.5 968 1468.5 L978.5 1462.5 Q983.7 1461 983.7 1466 L983.7 1521.5 Q983.5 1524.5 981 1525.8 L973 1529.5 Q970.5 1530 969 1528.5 L966.5 1526 Q965.9 1525 965.9 1523 Z" stroke-width="1.1" fill="#fff"/>
<path d="M969 1473.5 L969 1528.5 M969 1473.5 L981.5 1466.5" stroke-width="0.8" fill="none"/>
<ellipse cx="976.8" cy="1521.9" rx="1.6" ry="2.2" stroke-width="1" fill="none"/>
<path d="M980.5 1480.5 L1072 1532" stroke-width="10" stroke-linecap="butt"/>
<path d="M980.5 1480.5 L1072 1532" stroke-width="8" stroke="#fff" stroke-linecap="butt"/>
<ellipse cx="979.5" cy="1480" rx="3.4" ry="5" stroke-width="1" fill="#fff" transform="rotate(-28 979.5 1480)"/>
<path d="M1069.1 1500.5 Q1069.1 1498 1071.5 1497 L1081 1491.5 Q1086.8 1490 1086.8 1495 L1086.3 1538.5 Q1086.2 1541.5 1083.5 1543 L1075.5 1547.3 Q1073.4 1548 1072 1546.5 L1069.6 1544 Q1069.1 1543 1069.1 1541 Z" stroke-width="1.1" fill="#fff"/>
<path d="M1072.3 1502 L1072.3 1546.5 M1072.3 1502 L1084.5 1495" stroke-width="0.8" fill="none"/>
<ellipse cx="1079.1" cy="1510.4" rx="1.6" ry="2.2" stroke-width="1" fill="none"/>
<path d="M1081 1537 L1106 1551.5" stroke-width="10" stroke-linecap="butt"/>
<path d="M1081 1537 L1106 1551.5" stroke-width="8" stroke="#fff" stroke-linecap="butt"/>
<ellipse cx="1080.5" cy="1536.8" rx="3.4" ry="5" stroke-width="1" fill="#fff" transform="rotate(-28 1080.5 1536.8)"/>
<path d="M1106 1546.5 L1114.5 1553 L1112 1559 L1106 1556.5" stroke-width="1" fill="#fff"/>
<ellipse cx="1113.4" cy="1556.2" rx="1.8" ry="3" stroke-width="1" fill="#fff" transform="rotate(-28 1113.4 1556.2)"/>
<path d="M1097 1546.5 L1106 1552" stroke-width="0.8" fill="none"/>
<path d="M931.2 1494.5 L935.2 1491.5 L941.2 1492.5 L941.2 1507.5 L935.2 1508 L931.2 1503.5Z" stroke-width="1.1" fill="#fff"/>
<ellipse cx="939.4" cy="1499.5" rx="5.6" ry="8" stroke-width="1.3" fill="#fff" transform="rotate(10 939.4 1499.5)"/>
<ellipse cx="939.6" cy="1499.5" rx="1.8" ry="2.6" stroke-width="1.1" fill="#fff" transform="rotate(10 939.6 1499.5)"/>
<path d="M1034.9 1484.5 L1038.9 1481.5 L1044.9 1482.5 L1044.9 1497.5 L1038.9 1498 L1034.9 1493.5Z" stroke-width="1.1" fill="#fff"/>
<ellipse cx="1043.1" cy="1489.5" rx="5.6" ry="8" stroke-width="1.3" fill="#fff" transform="rotate(10 1043.1 1489.5)"/>
<ellipse cx="1043.3" cy="1489.5" rx="1.8" ry="2.6" stroke-width="1.1" fill="#fff" transform="rotate(10 1043.3 1489.5)"/>
<path d="M1132.3 1407.1 L1136.3 1404.1 L1142.3 1405.1 L1142.3 1420.1 L1136.3 1420.6 L1132.3 1416.1Z" stroke-width="1.1" fill="#fff"/>
<ellipse cx="1140.5" cy="1412.1" rx="5.6" ry="8" stroke-width="1.3" fill="#fff" transform="rotate(10 1140.5 1412.1)"/>
<ellipse cx="1140.7" cy="1412.1" rx="1.8" ry="2.6" stroke-width="1.1" fill="#fff" transform="rotate(10 1140.7 1412.1)"/>
<path d="M1030.6 1588.5 L1034.6 1585.5 L1040.6 1586.5 L1040.6 1601.5 L1034.6 1602 L1030.6 1597.5Z" stroke-width="1.1" fill="#fff"/>
<ellipse cx="1038.8" cy="1593.5" rx="5.6" ry="8" stroke-width="1.3" fill="#fff" transform="rotate(10 1038.8 1593.5)"/>
<ellipse cx="1039" cy="1593.5" rx="1.8" ry="2.6" stroke-width="1.1" fill="#fff" transform="rotate(10 1039 1593.5)"/>
<ellipse cx="926" cy="1447.5" rx="5.6" ry="7" stroke-width="1.2" fill="#fff" transform="rotate(15 926 1447.5)"/>
<ellipse cx="929.5" cy="1448.8" rx="5.4" ry="6.8" stroke-width="1.3" fill="#fff" transform="rotate(15 929.5 1448.8)"/>
<path d="M921.5 1443 L926 1440.5 L932 1442 M923 1454 L927.5 1456" stroke-width="1.1" fill="none"/>
<ellipse cx="929.8" cy="1449" rx="2.6" ry="3.6" stroke-width="1" fill="#fff" transform="rotate(15 929.8 1449)"/>
<path d="M1179.4 1433.9 L1126.4 1464.6" stroke-width="8.6" stroke-linecap="butt"/>
<path d="M1179.4 1433.9 L1126.4 1464.6" stroke-width="6.6" stroke="#fff" stroke-linecap="butt"/>
<ellipse cx="1179.4" cy="1433.9" rx="2.6" ry="4" stroke-width="1" fill="#fff" transform="rotate(30 1179.4 1433.9)"/>
<ellipse cx="1126.4" cy="1464.6" rx="2.6" ry="4" stroke-width="1" fill="#fff" transform="rotate(30 1126.4 1464.6)"/>
<path d="M1165.5 1425.5 L1173 1430.5" stroke-width="4" fill="none" stroke="#333" stroke-dasharray="1.3 1"/>
<path d="M1118 1455.5 L1126 1460.5" stroke-width="4" fill="none" stroke="#333" stroke-dasharray="1.3 1"/>
<path d="M1172 1436 L1176 1431" stroke-width="1" fill="none"/>
<path d="M1080.5 1616.4 L1027.5 1647.9" stroke-width="8.6" stroke-linecap="butt"/>
<path d="M1080.5 1616.4 L1027.5 1647.9" stroke-width="6.6" stroke="#fff" stroke-linecap="butt"/>
<ellipse cx="1080.5" cy="1616.4" rx="2.6" ry="4" stroke-width="1" fill="#fff" transform="rotate(30 1080.5 1616.4)"/>
<ellipse cx="1027.5" cy="1647.9" rx="2.6" ry="4" stroke-width="1" fill="#fff" transform="rotate(30 1027.5 1647.9)"/>
<path d="M1067 1609.5 L1074.5 1614" stroke-width="4" fill="none" stroke="#333" stroke-dasharray="1.3 1"/>
<path d="M1018.5 1639.5 L1026 1644" stroke-width="4" fill="none" stroke="#333" stroke-dasharray="1.3 1"/>
<ellipse cx="1130.7" cy="1566.3" rx="7.5" ry="10" stroke-width="1.8" fill="#fff" transform="rotate(20 1130.7 1566.3)"/>
<ellipse cx="1131.2" cy="1566.5" rx="5.2" ry="7.6" stroke-width="1" fill="#fff" transform="rotate(20 1131.2 1566.5)"/>
<path d="M1139 1568.5 L1146.5 1564 L1158 1571.5 L1152 1587.5 L1143.5 1583 L1137 1577.5Z" stroke-width="1.1" fill="#fff"/>
<ellipse cx="1140.2" cy="1573.5" rx="3.4" ry="5.6" stroke-width="1.1" fill="#fff" transform="rotate(25 1140.2 1573.5)"/>
<ellipse cx="1154.5" cy="1579.5" rx="6.6" ry="9.4" stroke-width="1.2" fill="#fff" transform="rotate(20 1154.5 1579.5)"/>
<ellipse cx="1156.6" cy="1580.4" rx="6.6" ry="9.4" stroke-width="1.2" fill="#fff" transform="rotate(20 1156.6 1580.4)"/>
<circle cx="1156.8" cy="1580.6" r="1.2" stroke-width="1" fill="none"/>
<ellipse cx="1169.9" cy="1587.8" rx="2.8" ry="3.4" stroke-width="1.4" fill="#888" transform="rotate(20 1169.9 1587.8)"/>
<path d="M1182.3 1594.9 L1193 1601" stroke-width="4" fill="none" stroke="#333" stroke-dasharray="1.3 1"/>
<ellipse cx="1196.4" cy="1602.8" rx="3" ry="4.4" stroke-width="1.2" fill="#fff" transform="rotate(-25 1196.4 1602.8)"/>
<path d="M1172.5 1643 L1177.5 1636 L1182 1634 L1186 1637 L1188 1634.5 L1192.5 1635 L1193.5 1640 L1187 1642.5 L1183.5 1647.5 L1176 1650 L1172 1651.5 L1170.5 1649.5Z" stroke-width="1.1" fill="#fff"/>
<ellipse cx="1178.4" cy="1643" rx="1.8" ry="2.4" stroke-width="1" fill="none"/>
<path d="M1182 1634 L1183.5 1640 L1187 1642.5" stroke-width="0.9" fill="none"/>
<g transform="translate(1199.5 1655.5) rotate(200) scale(0.9)">
<path d="M2 -3.2L9.5 3.6L1 4.4Z" fill="#fff" stroke-width="0.9"/>
<ellipse cx="0" cy="0" rx="4.8" ry="5.4" fill="#333" stroke-width="1.2"/>
<ellipse cx="-0.8" cy="-0.6" rx="2" ry="2.4" fill="#eee" stroke-width="0.8"/>
<path d="M-4 -2L-1 -5M-4.6 1L-3 3.8M1 5.2L3.6 3.4" stroke="#fff" stroke-width="0.7"/>
</g>
<path d="M922.4 1401.5L928.1 1443.1" stroke-width="1.1"/>
<text x="918.4" y="1397.2" font-size="18" text-anchor="middle">38</text>
<path d="M998.9 1410.1L989.7 1476" stroke-width="1.1"/>
<text x="1006.1" y="1404.4" font-size="18" text-anchor="middle">175</text>
<path d="M934.4 1506.1L926.4 1540.5" stroke-width="1.1"/>
<text x="914.1" y="1558.3" font-size="18" text-anchor="middle">360</text>
<path d="M1052.8 1437.4L1043.9 1481.8" stroke-width="1.1"/>
<path d="M1082 1421.6L1132.1 1414.4" stroke-width="1.1"/>
<text x="1061.9" y="1433.1" font-size="18" text-anchor="middle">360</text>
<path d="M1205.2 1460.8L1162.2 1454.5" stroke-width="1.1"/>
<text x="1223.5" y="1471.7" font-size="18" text-anchor="middle">356</text>
<path d="M1138.7 1520.4L1133.5 1557.7" stroke-width="1.1"/>
<text x="1140.7" y="1511.8" font-size="18" text-anchor="middle">311</text>
<path d="M1178 1529L1157.9 1567.7" stroke-width="1.1"/>
<text x="1187.1" y="1522.4" font-size="18" text-anchor="middle">312</text>
<path d="M1206.6 1551.9L1172.2 1584.9" stroke-width="1.1"/>
<text x="1224.9" y="1547.7" font-size="18" text-anchor="middle">140</text>
<path d="M1236.7 1582L1198 1597.8" stroke-width="1.1"/>
<text x="1259.6" y="1584.9" font-size="18" text-anchor="middle">313</text>
<path d="M1070.5 1587.8L1046.2 1591.5" stroke-width="1.1"/>
<text x="1091.4" y="1590.1" font-size="18" text-anchor="middle">360</text>
<path d="M1056.8 1673.7L1049.9 1642.2" stroke-width="1.1"/>
<text x="1066.8" y="1689.5" font-size="18" text-anchor="middle">279</text>
<path d="M1169.4 1675.1L1173.7 1647.9" stroke-width="1.1"/>
<text x="1167.6" y="1693.8" font-size="18" text-anchor="middle">309</text>
<path d="M1212.3 1676.6L1200.9 1660.8" stroke-width="1.1"/>
<text x="1225.2" y="1694.6" font-size="18" text-anchor="middle">143</text>
</g>
<g id="30_trans">
<path d="M273.4 1455L273.4 1744" stroke-width="1.2" stroke-dasharray="9 4"/>
<path d="M301.6 1458L301.6 1549" stroke-width="1.2" stroke-dasharray="9 4"/>
<path d="M301.6 1710.5L301.6 1720" stroke-width="1.2" stroke-dasharray="9 4"/>
<path d="M456.6 1638L456.6 1676" stroke-width="1.2" stroke-dasharray="9 4"/>
<path d="M485.1 1639.2L485.1 1660" stroke-width="1.2" stroke-dasharray="9 4"/>
<path d="M485.1 1711.8L485.1 1731.3" stroke-width="1.2" stroke-dasharray="9 4"/>
<path d="M456.6 1706L456.6 1716" stroke-width="1.2" stroke-dasharray="9 4"/>
<path d="M492.4 1608.8L492.4 1617.5" stroke-width="1.2" stroke-dasharray="9 4"/>
<path d="M492.4 1617.5L457.5 1636" stroke-width="1.2" stroke-dasharray="9 4"/>
<path d="M521.9 1596.8L521.9 1619.7" stroke-width="1.2" stroke-dasharray="9 4"/>
<path d="M521.9 1619.7L485.2 1639.3" stroke-width="1.2" stroke-dasharray="9 4"/>
<path d="M221.5 1536.5 L268.7 1562.8" stroke-width="9" stroke-linecap="butt"/>
<path d="M221.5 1536.5 L268.7 1562.8" stroke-width="7" stroke="#fff" stroke-linecap="butt"/>
<path d="M223 1533.5 L270 1559.8" stroke-width="2.2" fill="none"/>
<ellipse cx="221" cy="1536" rx="2.8" ry="4.6" stroke-width="1" fill="#fff" transform="rotate(-28 221 1536)"/>
<path d="M486.9 1691 L539.5 1723" stroke-width="11.5" stroke-linecap="butt"/>
<path d="M486.9 1691 L539.5 1723" stroke-width="9.5" stroke="#fff" stroke-linecap="butt"/>
<path d="M489 1686.5 L541 1718.3" stroke-width="2.4" fill="none" stroke-dasharray="1.6 0.8"/>
<ellipse cx="540.6" cy="1723.6" rx="3.6" ry="5.8" stroke-width="1.2" fill="#fff" transform="rotate(-28 540.6 1723.6)"/>
<path d="M534.5 1714 L531 1719 L533 1727" stroke-width="1" fill="none"/>
<path d="M264.7 1563.3L274.6 1553.5L299.1 1549.8L313.9 1556L315.1 1564.6L328.6 1557.2L358.1 1554.1L391.2 1562.1L405.9 1579.3L409.6 1576.8L409.6 1578.4L414.6 1576L439.1 1576L446.5 1582.1L451.4 1636.1L453.9 1650.9L468.6 1653.3L495.6 1661.9L499.3 1682.8L498.1 1697.5L480.9 1709.8L466.1 1706.1L456.3 1707.3L439.1 1690.2L426.8 1686.5L418.2 1693.8L413.3 1698.4L399.8 1714.4L372.8 1715.6L350.7 1723L323.7 1711.9L299.1 1703.3L281.9 1678.8L269.6 1667.7L269.6 1650.5L278.2 1638.2L277 1601.4L267.2 1592.8Z" stroke-width="1.4" fill="#fff"/>
<path d="M264.7 1563.3L274.6 1553.5L299.1 1549.8L313.9 1556L315.1 1564.6L307.7 1568.2L304 1580.5L296.7 1586.7L286.8 1589.1L278.2 1598.9L267.2 1592.8Z" stroke-width="1.6" fill="#fff"/>
<path d="M268.4 1560.9L275.8 1554.7L295.4 1553.5L296.7 1564.6L290.5 1575.6L274.6 1575.6L268.4 1569.5Z" stroke-width="1.2" fill="#222"/>
<ellipse cx="274.6" cy="1559.6" rx="1.6" ry="1.3" stroke-width="0.5" fill="#fff"/>
<ellipse cx="281.9" cy="1557.2" rx="1.6" ry="1.3" stroke-width="0.5" fill="#fff"/>
<ellipse cx="289.3" cy="1558.4" rx="1.6" ry="1.3" stroke-width="0.5" fill="#fff"/>
<ellipse cx="278.2" cy="1567" rx="1.6" ry="1.3" stroke-width="0.5" fill="#fff"/>
<ellipse cx="285.6" cy="1565.8" rx="1.6" ry="1.3" stroke-width="0.5" fill="#fff"/>
<ellipse cx="291.7" cy="1569.5" rx="1.6" ry="1.3" stroke-width="0.5" fill="#fff"/>
<ellipse cx="273.3" cy="1570.7" rx="1.6" ry="1.3" stroke-width="0.5" fill="#fff"/>
<ellipse cx="283.2" cy="1572.5" rx="1.6" ry="1.3" stroke-width="0.5" fill="#fff"/>
<ellipse cx="303.7" cy="1567.3" rx="2.6" ry="3.4" stroke-width="1.6" fill="#fff"/>
<ellipse cx="304" cy="1552.9" rx="5" ry="3" stroke-width="1.6" fill="#fff"/>
<path d="M280.7 1589.1L280.7 1597.7L290.5 1587.9M296.7 1586.7L290.5 1598.9L279.5 1613.7L277 1630.9M299.1 1580.5L293 1597.7L281.9 1612.4L279.5 1633.3" stroke-width="1.6" fill="none"/>
<path d="M279.5 1619.8L301.6 1618.6L323.7 1624.7L323.7 1633.3L301.6 1630.9L280.7 1627.2Z" stroke-width="1.6" fill="#fff"/>
<path d="M285.6 1608.8L290.5 1606.3L290.5 1618.6L285.6 1619.8Z" stroke-width="1.4" fill="#333"/>
<path d="M286.8 1621L299.1 1620.4L299.1 1624.7L286.8 1625.3Z" stroke-width="1.2" fill="#333"/>
<path d="M302.8 1616.1L318.8 1613.7L323.7 1623.5L307.7 1626Z" stroke-width="1.4" fill="#333"/>
<path d="M323.7 1618.6L343.3 1616.1L348.2 1628.4L328.6 1633.3Z" stroke-width="1.4" fill="#333"/>
<path d="M333.5 1624.7L340.9 1624.7L340.9 1629.6L333.5 1629.6Z" stroke-width="1" fill="#fff"/>
<ellipse cx="280.7" cy="1624.1" rx="2" ry="2.6" stroke-width="1.4" fill="#fff"/>
<path d="M283.2 1635.8L283.2 1677.5" stroke-width="3.4" fill="none"/>
<path d="M287.8 1636L287.8 1679.5" stroke-width="2" fill="none"/>
<path d="M292.5 1636.2L292.5 1681.4" stroke-width="3.4" fill="none"/>
<path d="M297.2 1636.5L297.2 1683.4" stroke-width="2" fill="none"/>
<path d="M301.8 1636.7L301.8 1685.4" stroke-width="3.4" fill="none"/>
<path d="M306.5 1636.9L306.5 1687.3" stroke-width="2" fill="none"/>
<path d="M311.1 1637.2L311.1 1689.3" stroke-width="3.4" fill="none"/>
<path d="M315.8 1650.5L315.8 1691.2" stroke-width="2" fill="none"/>
<path d="M320.5 1650.5L320.5 1693.2" stroke-width="3.4" fill="none"/>
<path d="M325.1 1650.5L325.1 1695.2" stroke-width="2" fill="none"/>
<path d="M329.8 1650.5L329.8 1697.1" stroke-width="3.4" fill="none"/>
<path d="M334.5 1650.5L334.5 1699.1" stroke-width="2" fill="none"/>
<path d="M339.1 1650.5L339.1 1701" stroke-width="3.4" fill="none"/>
<path d="M343.8 1672.6L343.8 1703" stroke-width="2" fill="none"/>
<path d="M348.5 1672.6L348.5 1705" stroke-width="3.4" fill="none"/>
<path d="M353.1 1672.6L353.1 1706.9" stroke-width="2" fill="none"/>
<path d="M357.8 1672.6L357.8 1708.9" stroke-width="3.4" fill="none"/>
<path d="M362.5 1672.6L362.5 1710.8" stroke-width="2" fill="none"/>
<path d="M367.1 1672.6L367.1 1712.8" stroke-width="3.4" fill="none"/>
<path d="M371.8 1672.6L371.8 1714.8" stroke-width="2" fill="none"/>
<path d="M284.4 1676.3L313.9 1694.7L348.2 1711.9" stroke-width="3.6" fill="none"/>
<path d="M286.8 1672.6L318.8 1692.3L351.9 1708.2" stroke-width="1.4" fill="none"/>
<path d="M269.6 1650.5L278.2 1650.5L290.5 1656.7L290.5 1675.1M269.6 1667.7L281.9 1673.8" stroke-width="1.8" fill="none"/>
<path d="M269.6 1650.5L278.2 1649.9L279.5 1657.9L270.9 1660.3Z" stroke-width="1.6" fill="#fff"/>
<path d="M308.9 1650.5L350.7 1660.3L351.9 1670.2L328.6 1665.2L323.7 1672.6L311.4 1667.7Z" stroke-width="1.6" fill="#fff"/>
<path d="M313.9 1657.9L321.2 1661.6L323.7 1667.7M318.8 1664L331 1662.8" stroke-width="2" fill="none"/>
<path d="M323.7 1665.2L336 1661.6L339.6 1670.2L328.6 1675.1Z" stroke-width="1.2" fill="#222"/>
<path d="M338.4 1672.6L354.4 1667.7L372.8 1681.2L371.6 1688.6L356.8 1693.5Z" stroke-width="1.6" fill="#fff"/>
<ellipse cx="347" cy="1673.8" rx="1.2" ry="0.9" stroke-width="0.8" fill="#222"/>
<ellipse cx="353.1" cy="1676.3" rx="1.2" ry="0.9" stroke-width="0.8" fill="#222"/>
<ellipse cx="358.7" cy="1680" rx="1.2" ry="0.9" stroke-width="0.8" fill="#222"/>
<ellipse cx="366.7" cy="1684.3" rx="3.4" ry="2" stroke-width="1.4" fill="#fff"/>
<ellipse cx="318.8" cy="1694.7" rx="2.8" ry="2" stroke-width="1.8" fill="#fff"/>
<ellipse cx="350.7" cy="1689.2" rx="2.8" ry="2" stroke-width="1.8" fill="#fff"/>
<ellipse cx="350.7" cy="1721.7" rx="2.8" ry="2" stroke-width="1.8" fill="#fff"/>
<ellipse cx="374" cy="1714.4" rx="2.8" ry="2" stroke-width="1.8" fill="#fff"/>
<ellipse cx="324.9" cy="1711.3" rx="2.8" ry="2" stroke-width="1.8" fill="#fff"/>
<ellipse cx="401" cy="1711.9" rx="2.8" ry="2" stroke-width="1.8" fill="#fff"/>
<path d="M350.7 1626L372.8 1621L374 1628.4L365.4 1637L365.4 1667.7L355.6 1667.7L354.4 1638.2Z" stroke-width="1.6" fill="#fff"/>
<path d="M365.4 1637L408.4 1616.1L414.5 1608.8L418.2 1611.6L420.7 1670.5L409.6 1677.9L413.3 1698.4L399.8 1714.4L380.2 1711.9L380.2 1677.5L365.4 1673.8Z" stroke-width="1.6" fill="#fff"/>
<path d="M367.9 1638L371.1 1674.1" stroke-width="1.6" fill="none"/>
<path d="M371.1 1636.4L374.3 1674.4" stroke-width="3.2" fill="none"/>
<path d="M374.3 1634.9L377.5 1674.7" stroke-width="3.2" fill="none"/>
<path d="M377.5 1633.3L380.6 1675" stroke-width="1.6" fill="none"/>
<path d="M380.6 1631.8L383.8 1675.4" stroke-width="3.2" fill="none"/>
<path d="M383.8 1630.2L387 1680.3" stroke-width="3.2" fill="none"/>
<path d="M387 1628.6L390.2 1681.4" stroke-width="1.6" fill="none"/>
<path d="M390.2 1627.1L393.4 1682.5" stroke-width="3.2" fill="none"/>
<path d="M393.4 1625.5L396.6 1683.6" stroke-width="3.2" fill="none"/>
<path d="M396.6 1623.9L399.8 1684.8" stroke-width="1.6" fill="none"/>
<path d="M399.8 1622.4L403 1699.4" stroke-width="3.2" fill="none"/>
<path d="M403 1620.8L406.2 1699.1" stroke-width="3.2" fill="none"/>
<path d="M406.2 1619.2L409.4 1698.7" stroke-width="1.6" fill="none"/>
<path d="M409.4 1617.7L412.6 1698.4" stroke-width="3.2" fill="none"/>
<path d="M412.6 1616.1L415.8 1698.1" stroke-width="3.2" fill="none"/>
<path d="M415.8 1614.5L419 1697.8" stroke-width="1.6" fill="none"/>
<path d="M419 1613L422.2 1697.5" stroke-width="3.2" fill="none"/>
<path d="M422.2 1611.4L425.3 1697.1" stroke-width="3.2" fill="none"/>
<path d="M425.3 1609.9L428.5 1696.8" stroke-width="1.6" fill="none"/>
<path d="M365.4 1637L408.4 1616.1" stroke-width="1.2" fill="none"/>
<path d="M409.6 1578.4L414.6 1576L439.1 1576L446.5 1582.1L451.4 1636.1L451.4 1653.3L439.1 1661.9L426.8 1646L420.7 1618.9L418.2 1611.6L414.6 1600.5L410.9 1596.8Z" stroke-width="1.6" fill="#fff"/>
<path d="M417 1584.6L430.5 1577.2L439.1 1580.9L430.5 1590.7L419.5 1590.7Z" stroke-width="1.2" fill="#111"/>
<path d="M414.6 1600.5L425.6 1595.6L439.1 1590.7L444 1583.3M425.6 1595.6L426.8 1611.6L436.7 1638.6L448.9 1653.3" stroke-width="1.8" fill="none"/>
<path d="M429.3 1596.8L435.4 1641" stroke-width="3" fill="none"/>
<path d="M432.7 1595.8L438.9 1642.1" stroke-width="1.6" fill="none"/>
<path d="M436.2 1594.8L442.3 1643.1" stroke-width="3" fill="none"/>
<path d="M439.6 1593.7L445.7 1644.1" stroke-width="1.6" fill="none"/>
<path d="M443 1592.7L449.2 1645.2" stroke-width="3" fill="none"/>
<path d="M446.5 1591.7L452.6 1646.2" stroke-width="1.6" fill="none"/>
<path d="M420.7 1618.9L424.4 1638.6L436.7 1653.3L447.7 1663.1" stroke-width="3" fill="none" stroke-dasharray="2 1.2"/>
<path d="M409.6 1677.9L420.7 1670.5L436.7 1670.5L439.1 1690.2L426.8 1686.5L418.2 1693.8L413.3 1690.2Z" stroke-width="1.6" fill="#fff"/>
<path d="M414.6 1684L421.9 1675.4L431.7 1676.7L435.4 1684M417 1685.2L423.2 1679.1L430.5 1679.7L433.6 1685.2" stroke-width="1.6" fill="none"/>
<ellipse cx="426.8" cy="1688.9" rx="5" ry="2.4" stroke-width="1.4" fill="#333"/>
<path d="M437.9 1665.6L451.4 1653.3L453.9 1650.9L468.6 1653.3L495.6 1661.9L499.3 1682.8L498.1 1697.5L480.9 1709.8L466.1 1706.1L456.3 1707.3L439.1 1690.2Z" stroke-width="1.6" fill="#fff"/>
<path d="M461.2 1650.9L469.8 1652.1L495.6 1663.1L496.8 1670.5L483.3 1677.9L461.2 1668.1Z" stroke-width="1.4" fill="#333"/>
<ellipse cx="466.1" cy="1657" rx="2" ry="1.5" stroke-width="0.6" fill="#fff"/>
<ellipse cx="476" cy="1660.7" rx="2" ry="1.5" stroke-width="0.6" fill="#fff"/>
<ellipse cx="485.8" cy="1664.4" rx="2" ry="1.5" stroke-width="0.6" fill="#fff"/>
<ellipse cx="468.6" cy="1664.4" rx="2" ry="1.5" stroke-width="0.6" fill="#fff"/>
<ellipse cx="478.4" cy="1669.3" rx="2" ry="1.5" stroke-width="0.6" fill="#fff"/>
<path d="M451.4 1680.3L466.1 1682.8L483.3 1677.9L498.1 1682.8M451.4 1680.3L451.4 1700M466.7 1682.8L466.7 1706.1M468.6 1695.1L478.4 1681.6L480.9 1690.2L471 1698.8" stroke-width="1.8" fill="none"/>
<path d="M468.6 1695.1L478.4 1681.6L481.5 1688.9L471.7 1698.8Z" stroke-width="1" fill="#333"/>
<path d="M439.1 1665.6L441.6 1677.9L451.4 1680.3" stroke-width="1.4" fill="none"/>
<ellipse cx="490.1" cy="1693.8" rx="7" ry="9.5" stroke-width="3" fill="#fff" transform="rotate(-25 490.1 1693.8)"/>
<path d="M318.8 1564.6L328.6 1557.2L336 1559.6L339.6 1570.7L328.6 1576.8Z" stroke-width="1.5" fill="#fff"/>
<path d="M348.2 1569.5L349.5 1560.9L358.1 1554.1L364.8 1556L360.5 1569.5Z" stroke-width="1.5" fill="#fff"/>
<path d="M372.8 1573.2L386.3 1562.1L391.8 1562.7L391.2 1565.8L377.7 1575.6Z" stroke-width="1.5" fill="#fff"/>
<path d="M380.2 1584.2L405.9 1579.3L406.6 1582.4L380.2 1587.9Z" stroke-width="1.5" fill="#fff"/>
<path d="M377.7 1594L404.7 1598.9L404.1 1601.4L376.5 1597.7Z" stroke-width="1.5" fill="#fff"/>
<path d="M361.7 1601.4L385.1 1614.9L386.3 1617.4L360.5 1603.9Z" stroke-width="1.5" fill="#fff"/>
<path d="M344.5 1602.6L356.8 1608.8L354.4 1623.5L340.9 1613.7Z" stroke-width="1.5" fill="#fff"/>
<path d="M313.9 1603.9L334.7 1598.9L340.9 1611.2L318.8 1618.6Z" stroke-width="1.5" fill="#fff"/>
<path d="M299.1 1589.1L324.9 1589.1L328.6 1597.7L299.1 1606.3Z" stroke-width="1.5" fill="#fff"/>
<path d="M301.6 1571.9L316.3 1570.7L326.1 1580.5L323.7 1589.1L299.1 1586.7Z" stroke-width="1.5" fill="#fff"/>
<path d="M360.5 1608.8L375.2 1616.1L372.8 1626L358.1 1624.7Z" stroke-width="1.5" fill="#fff"/>
<ellipse cx="351.3" cy="1587.2" rx="27.3" ry="15" stroke-width="1.2" fill="#fff"/>
<ellipse cx="351.3" cy="1586" rx="27.3" ry="15" stroke-width="2" fill="#fff"/>
<ellipse cx="351.3" cy="1586.5" rx="8.5" ry="4.8" stroke-width="1.6" fill="#fff"/>
<ellipse cx="351.3" cy="1586.5" rx="5.6" ry="3" stroke-width="1.4" fill="#fff"/>
<path d="M346.8 1586.5L355.8 1586.5" stroke-width="1.4"/>
<ellipse cx="339" cy="1579.3" rx="2.6" ry="1.7" stroke-width="1" fill="#fff"/>
<ellipse cx="357.4" cy="1576.8" rx="2.6" ry="1.7" stroke-width="1" fill="#fff"/>
<ellipse cx="369.7" cy="1584" rx="2.6" ry="1.7" stroke-width="1" fill="#333"/>
<ellipse cx="364.2" cy="1594" rx="2.6" ry="1.7" stroke-width="1" fill="#333"/>
<ellipse cx="347" cy="1596.7" rx="2.6" ry="1.7" stroke-width="1" fill="#111"/>
<ellipse cx="337.8" cy="1595.9" rx="2.6" ry="1.7" stroke-width="1" fill="#111"/>
<ellipse cx="334.7" cy="1589.1" rx="2.6" ry="1.7" stroke-width="1" fill="#111"/>
<path d="M264.5 1609 Q262 1614 264 1622 L267 1622 Q265 1614 267.5 1609Z" stroke-width="1.2" fill="#555"/>
<path d="M273.4 1745.5 V1790" stroke-width="5" stroke-linecap="butt"/>
<path d="M273.4 1745.5 V1790" stroke-width="3.2" stroke="#fff" stroke-linecap="butt"/>
<ellipse cx="273.4" cy="1745.5" rx="2.5" ry="1" stroke-width="0.9" fill="#fff"/>
<ellipse cx="273.4" cy="1791" rx="5.6" ry="2.6" stroke-width="1.1" fill="#fff"/>
<ellipse cx="273.4" cy="1793.4" rx="4" ry="1.8" stroke-width="1.1" fill="#fff"/>
<path d="M270.9 1751.5L275.9 1751.5" stroke-width="0.8"/>
<path d="M301.6 1720.9 V1765.5" stroke-width="5" stroke-linecap="butt"/>
<path d="M301.6 1720.9 V1765.5" stroke-width="3.2" stroke="#fff" stroke-linecap="butt"/>
<ellipse cx="301.6" cy="1720.9" rx="2.5" ry="1" stroke-width="0.9" fill="#fff"/>
<ellipse cx="301.6" cy="1766.5" rx="5.6" ry="2.6" stroke-width="1.1" fill="#fff"/>
<ellipse cx="301.6" cy="1768.9" rx="4" ry="1.8" stroke-width="1.1" fill="#fff"/>
<path d="M299.1 1726.9L304.1 1726.9" stroke-width="0.8"/>
<path d="M456.6 1717 V1761.5" stroke-width="5" stroke-linecap="butt"/>
<path d="M456.6 1717 V1761.5" stroke-width="3.2" stroke="#fff" stroke-linecap="butt"/>
<ellipse cx="456.6" cy="1717" rx="2.5" ry="1" stroke-width="0.9" fill="#fff"/>
<ellipse cx="456.6" cy="1762.5" rx="5.6" ry="2.6" stroke-width="1.1" fill="#fff"/>
<ellipse cx="456.6" cy="1764.9" rx="4" ry="1.8" stroke-width="1.1" fill="#fff"/>
<path d="M454.1 1723L459.1 1723" stroke-width="0.8"/>
<path d="M485.1 1732.6 V1777" stroke-width="5" stroke-linecap="butt"/>
<path d="M485.1 1732.6 V1777" stroke-width="3.2" stroke="#fff" stroke-linecap="butt"/>
<ellipse cx="485.1" cy="1732.6" rx="2.5" ry="1" stroke-width="0.9" fill="#fff"/>
<ellipse cx="485.1" cy="1778" rx="5.6" ry="2.6" stroke-width="1.1" fill="#fff"/>
<ellipse cx="485.1" cy="1780.4" rx="4" ry="1.8" stroke-width="1.1" fill="#fff"/>
<path d="M482.6 1738.6L487.6 1738.6" stroke-width="0.8"/>
<path d="M365.9 1776.6L305 1770.1" stroke-width="1.1"/>
<path d="M365.9 1777.9L277.8 1794.2" stroke-width="1.1"/>
<path d="M393.1 1776.6L452.7 1766.2" stroke-width="1.1"/>
<path d="M393.1 1777.9L481.2 1783.9" stroke-width="1.1"/>
<text x="378.3" y="1780.5" font-size="18" text-anchor="middle">73</text>
<path d="M222.2 1632.5L262.4 1620.9" stroke-width="1.1"/>
<text x="215.6" y="1641.7" font-size="18" text-anchor="middle">1</text>
</g>
<g id="31_transparts">
<g transform="translate(108.5 1472) rotate(10)">
<path d="M2.5 -8.5Q7.5 -6 7 1Q6 7.5 -1 9.5L-6.5 10L-4 7L0 6Q3.5 4 3.5 0Q3.5 -3.5 1 -5L-3 -3.5L-5.5 -5.5Z" fill="#fff" stroke-width="1.3"/>
</g>
<ellipse cx="132" cy="1484" rx="10" ry="13.8" stroke-width="1" fill="#fff" transform="rotate(22 132 1484)"/>
<ellipse cx="132.8" cy="1483.5" rx="10" ry="13.8" stroke-width="1.2" fill="#fff" transform="rotate(22 132.8 1483.5)"/>
<ellipse cx="133.1" cy="1483.5" rx="4.2" ry="6.2" stroke-width="1.2" fill="#fff" transform="rotate(22 133.1 1483.5)"/>
<ellipse cx="153.5" cy="1497.7" rx="10" ry="13.8" stroke-width="1" fill="#fff" transform="rotate(22 153.5 1497.7)"/>
<ellipse cx="154.3" cy="1497.2" rx="10" ry="13.8" stroke-width="1.2" fill="#fff" transform="rotate(22 154.3 1497.2)"/>
<ellipse cx="154.6" cy="1497.2" rx="4.2" ry="6.2" stroke-width="1.2" fill="#fff" transform="rotate(22 154.6 1497.2)"/>
<path d="M164.5 1499 L175 1505 L175 1520 L164.5 1513.5Z" stroke-width="1.1" fill="#fff"/>
<path d="M164.5 1499 Q170 1494.5 179 1500" stroke-width="1.1" fill="#fff"/>
<ellipse cx="177.5" cy="1510" rx="6.2" ry="10" stroke-width="1.4" fill="#fff" transform="rotate(18 177.5 1510)"/>
<ellipse cx="178" cy="1510.2" rx="4.6" ry="8.2" stroke-width="1.1" fill="#fff" transform="rotate(18 178 1510.2)"/>
<ellipse cx="198.3" cy="1521.6" rx="8" ry="10.8" stroke-width="1.6" fill="#fff" transform="rotate(20 198.3 1521.6)"/>
<ellipse cx="198.7" cy="1521.8" rx="5.6" ry="8" stroke-width="1.1" fill="#fff" transform="rotate(20 198.7 1521.8)"/>
<path d="M127.1 1403.1L115.1 1464" stroke-width="1.1"/>
<text x="129.9" y="1397.2" font-size="18" text-anchor="middle">33</text>
<path d="M183.3 1445.4L143.1 1470.5" stroke-width="1.1"/>
<path d="M183.3 1447.2L165.2 1484.8" stroke-width="1.1"/>
<text x="198.3" y="1442" font-size="18" text-anchor="middle">205</text>
<path d="M141.8 1563.8L171.7 1518.5" stroke-width="1.1"/>
<text x="124.7" y="1578.6" font-size="18" text-anchor="middle">183</text>
<path d="M185.9 1579.4L195 1532.7" stroke-width="1.1"/>
<text x="180.5" y="1595" font-size="18" text-anchor="middle">37</text>
<path d="M224.5 1511.3 L249.8 1524.6" stroke-width="4.6" fill="none" stroke-linecap="round"/>
<path d="M224.5 1511.3 L249.8 1524.6" stroke-width="2.6" fill="none" stroke-linecap="round" stroke="#fff"/>
<path d="M255.9 1484.8L242.9 1515.9" stroke-width="1.1"/>
<text x="258.5" y="1480.9" font-size="18" text-anchor="middle">2</text>
<path d="M537 1695.9 L562.3 1709.3" stroke-width="4.6" fill="none" stroke-linecap="round"/>
<path d="M537 1695.9 L562.3 1709.3" stroke-width="2.6" fill="none" stroke-linecap="round" stroke="#fff"/>
<path d="M567.7 1660.1L554.6 1701.5" stroke-width="1.1"/>
<text x="569.2" y="1656.8" font-size="18" text-anchor="middle">2</text>
<ellipse cx="562.2" cy="1735.4" rx="8" ry="10.8" stroke-width="1.6" fill="#fff" transform="rotate(20 562.2 1735.4)"/>
<ellipse cx="562.6" cy="1735.6" rx="5.6" ry="8" stroke-width="1.1" fill="#fff" transform="rotate(20 562.6 1735.6)"/>
<path d="M593.9 1688.4L568.8 1727.7" stroke-width="1.1"/>
<text x="604.4" y="1685.2" font-size="18" text-anchor="middle">37</text>
<path d="M571.5 1737.5 L582 1743.5 L582 1758.5 L571.5 1752Z" stroke-width="1.1" fill="#fff"/>
<path d="M571.5 1737.5 Q577 1733 586 1738.5" stroke-width="1.1" fill="#fff"/>
<ellipse cx="584.5" cy="1748.5" rx="6.2" ry="10" stroke-width="1.4" fill="#fff" transform="rotate(18 584.5 1748.5)"/>
<ellipse cx="585" cy="1748.7" rx="4.6" ry="8.2" stroke-width="1.1" fill="#fff" transform="rotate(18 585 1748.7)"/>
<path d="M645.2 1683L588.4 1739.7" stroke-width="1.1"/>
<text x="659.6" y="1683.6" font-size="18" text-anchor="middle">183</text>
<ellipse cx="604" cy="1761" rx="10" ry="13.8" stroke-width="1" fill="#fff" transform="rotate(22 604 1761)"/>
<ellipse cx="604.8" cy="1760.5" rx="10" ry="13.8" stroke-width="1.2" fill="#fff" transform="rotate(22 604.8 1760.5)"/>
<ellipse cx="605.1" cy="1760.5" rx="4.2" ry="6.2" stroke-width="1.2" fill="#fff" transform="rotate(22 605.1 1760.5)"/>
<ellipse cx="625.8" cy="1775.2" rx="10" ry="13.8" stroke-width="1" fill="#fff" transform="rotate(22 625.8 1775.2)"/>
<ellipse cx="626.6" cy="1774.7" rx="10" ry="13.8" stroke-width="1.2" fill="#fff" transform="rotate(22 626.6 1774.7)"/>
<ellipse cx="626.9" cy="1774.7" rx="4.2" ry="6.2" stroke-width="1.2" fill="#fff" transform="rotate(22 626.9 1774.7)"/>
<path d="M655 1723.4L614.6 1748.5" stroke-width="1.1"/>
<path d="M655 1724.5L636.5 1762.7" stroke-width="1.1"/>
<text x="670.7" y="1719" font-size="18" text-anchor="middle">205</text>
<g transform="translate(647.4 1783.4) rotate(10)">
<path d="M2.5 -8.5Q7.5 -6 7 1Q6 7.5 -1 9.5L-6.5 10L-4 7L0 6Q3.5 4 3.5 0Q3.5 -3.5 1 -5L-3 -3.5L-5.5 -5.5Z" fill="#fff" stroke-width="1.3"/>
</g>
<path d="M706.8 1775.3L655 1780.8" stroke-width="1.1"/>
<text x="720.5" y="1779" font-size="18" text-anchor="middle">33</text>
<path d="M265.5 1431.5L286.3 1418.4L296.1 1417.9L321.2 1427.1L322.7 1433.7L322.7 1439.5L313.6 1445L313.6 1440.2L298.3 1450L298.3 1454.5L291.7 1460L285.2 1461L265.5 1444Z" stroke-width="1.2" fill="#fff"/>
<path d="M265.5 1431.5L286.3 1418.4L296.1 1417.9L321.2 1427.1L322.7 1433.7L313.6 1440.2L309.5 1438.5L298.3 1450L291.7 1455.5L285.2 1456.5L265.5 1439Z" stroke-width="1.1" fill="#fff"/>
<ellipse cx="271.5" cy="1433.5" rx="3.6" ry="2.4" stroke-width="1.2" fill="#fff"/>
<ellipse cx="271.5" cy="1433.5" rx="1.8" ry="1.1" stroke-width="1" fill="none"/>
<ellipse cx="290.5" cy="1422" rx="3.6" ry="2.4" stroke-width="1.2" fill="#fff"/>
<ellipse cx="290.5" cy="1422" rx="1.8" ry="1.1" stroke-width="1" fill="none"/>
<ellipse cx="315.5" cy="1431.5" rx="3.6" ry="2.4" stroke-width="1.2" fill="#fff"/>
<ellipse cx="315.5" cy="1431.5" rx="1.8" ry="1.1" stroke-width="1" fill="none"/>
<ellipse cx="287.5" cy="1449.5" rx="3.6" ry="2.4" stroke-width="1.2" fill="#fff"/>
<ellipse cx="287.5" cy="1449.5" rx="1.8" ry="1.1" stroke-width="1" fill="none"/>
<path d="M277.5 1430.5 L287.5 1425.5 L292.5 1432.5 L282.5 1439.5Z M297.5 1424.5 L307.5 1426.5 L309.5 1432.5 L300.5 1434.5Z M289.5 1439.5 L298.5 1436.5 L296.5 1444.5Z" stroke-width="1.1" fill="#fff"/>
<path d="M292.5 1423.5 L294.5 1435.5 L305.5 1441.5" stroke-width="1.4" fill="none"/>
<path d="M278.7 1398L284.9 1427.8" stroke-width="1.1"/>
<text x="270.9" y="1392.8" font-size="18" text-anchor="middle">319</text>
<path d="M295 1460 V1463.5 M316 1446 V1450" stroke-width="2" fill="none"/>
<path d="M472.5 1581.5L493.3 1568.4L503.1 1567.9L528.2 1577.1L529.7 1583.7L529.7 1589.5L520.6 1595L520.6 1590.2L505.3 1600L505.3 1604.5L498.7 1610L492.2 1611L472.5 1594Z" stroke-width="1.2" fill="#fff"/>
<path d="M472.5 1581.5L493.3 1568.4L503.1 1567.9L528.2 1577.1L529.7 1583.7L520.6 1590.2L516.5 1588.5L505.3 1600L498.7 1605.5L492.2 1606.5L472.5 1589Z" stroke-width="1.1" fill="#fff"/>
<ellipse cx="478.5" cy="1583.5" rx="3.6" ry="2.4" stroke-width="1.2" fill="#fff"/>
<ellipse cx="478.5" cy="1583.5" rx="1.8" ry="1.1" stroke-width="1" fill="none"/>
<ellipse cx="497.5" cy="1572" rx="3.6" ry="2.4" stroke-width="1.2" fill="#fff"/>
<ellipse cx="497.5" cy="1572" rx="1.8" ry="1.1" stroke-width="1" fill="none"/>
<ellipse cx="522.5" cy="1581.5" rx="3.6" ry="2.4" stroke-width="1.2" fill="#fff"/>
<ellipse cx="522.5" cy="1581.5" rx="1.8" ry="1.1" stroke-width="1" fill="none"/>
<ellipse cx="494.5" cy="1599.5" rx="3.6" ry="2.4" stroke-width="1.2" fill="#fff"/>
<ellipse cx="494.5" cy="1599.5" rx="1.8" ry="1.1" stroke-width="1" fill="none"/>
<path d="M484.5 1580.5 L494.5 1575.5 L499.5 1582.5 L489.5 1589.5Z M504.5 1574.5 L514.5 1576.5 L516.5 1582.5 L507.5 1584.5Z M496.5 1589.5 L505.5 1586.5 L503.5 1594.5Z" stroke-width="1.1" fill="#fff"/>
<path d="M499.5 1573.5 L501.5 1585.5 L512.5 1591.5" stroke-width="1.4" fill="none"/>
<path d="M573.2 1592.4L530.6 1585.4" stroke-width="1.1"/>
<text x="590.8" y="1598.9" font-size="18" text-anchor="middle">319</text>
<path d="M329.8 1366.8 H373.3 V1465.3 H329.8" stroke-width="1.1" fill="none"/>
<path d="M348.6 1392 V1413 Q351.8 1415 355 1413 V1392" stroke-width="1" fill="#fff"/>
<path d="M348.6 1400L355 1400" stroke-width="0.8"/>
<path d="M348.6 1403L355 1403" stroke-width="0.8"/>
<path d="M348.6 1406L355 1406" stroke-width="0.8"/>
<path d="M348.6 1409L355 1409" stroke-width="0.8"/>
<path d="M348.6 1412L355 1412" stroke-width="0.8"/>
<path d="M344.5 1380L348 1376.5L355.6 1376.5L359.2 1380L359.2 1387.5L355.6 1391L348 1391L344.5 1387.5Z" stroke-width="1.1" fill="#fff"/>
<ellipse cx="351.8" cy="1381.5" rx="6" ry="3" stroke-width="0.8" fill="none"/>
<ellipse cx="351.8" cy="1433.5" rx="9" ry="5.4" stroke-width="1" fill="#fff"/>
<ellipse cx="351.8" cy="1431.7" rx="9" ry="5.4" stroke-width="1.1" fill="#fff"/>
<ellipse cx="351.8" cy="1431.7" rx="4.4" ry="2.4" stroke-width="1.1" fill="#fff"/>
<ellipse cx="351.8" cy="1453.4" rx="9" ry="5.4" stroke-width="1" fill="#fff"/>
<ellipse cx="351.8" cy="1451.6" rx="9" ry="5.4" stroke-width="1.1" fill="#fff"/>
<ellipse cx="351.8" cy="1451.6" rx="4.4" ry="2.4" stroke-width="1.1" fill="#fff"/>
<path d="M348 1452 H355.5" stroke-width="1" fill="none"/>
<path d="M374.6 1413.5L395.9 1409.6" stroke-width="1.1"/>
<text x="406.2" y="1421.5" font-size="20" text-anchor="middle">*</text>
<ellipse cx="351.8" cy="1509.5" rx="34.3" ry="18" stroke-width="1" fill="#fff"/>
<ellipse cx="351.8" cy="1507.5" rx="34.3" ry="18" stroke-width="2" fill="#fff"/>
<ellipse cx="351.8" cy="1502" rx="31" ry="15.5" stroke-width="1" fill="#fff"/>
<ellipse cx="351.8" cy="1493.9" rx="34.3" ry="18" stroke-width="1.8" fill="#fff"/>
<ellipse cx="351.8" cy="1494.5" rx="32" ry="16.5" stroke-width="1" fill="#fff"/>
<ellipse cx="351.8" cy="1498" rx="18" ry="9" stroke-width="1" fill="#fff"/>
<ellipse cx="351.8" cy="1497" rx="14" ry="7" stroke-width="1" fill="#fff"/>
<path d="M342.3 1491 V1496.5 Q351.8 1502 361.3 1496.5 V1491" stroke-width="1.1" fill="#fff"/>
<ellipse cx="351.8" cy="1491" rx="9.5" ry="5" stroke-width="1.2" fill="#fff"/>
<ellipse cx="351.8" cy="1491" rx="3.6" ry="1.9" stroke-width="1.2" fill="#fff"/>
<path d="M417.1 1473.9L385.5 1486.1" stroke-width="1.1"/>
<text x="429.3" y="1475.7" font-size="18" text-anchor="middle">61</text>
<ellipse cx="351.8" cy="1541.2" rx="10.5" ry="6.5" stroke-width="1" fill="#fff"/>
<ellipse cx="351.8" cy="1539.7" rx="10.5" ry="6.5" stroke-width="1.1" fill="#fff"/>
<ellipse cx="351.8" cy="1539.7" rx="4.2" ry="2.4" stroke-width="1.1" fill="#fff"/>
<path d="M398.5 1535.3L362.2 1537.9" stroke-width="1.1"/>
<text x="415.8" y="1539.2" font-size="18" text-anchor="middle">320</text>
</g>
<g id="98_watermark">
<defs><mask id="hx" maskUnits="userSpaceOnUse" x="180" y="530" width="270" height="245"><path d="M189.6 657.4L240 549.6L357.4 538.7L443.3 646.4L390.1 761L270 769.2Z" fill="#fff" stroke="none"/><g stroke="#000" stroke-width="19" fill="none" stroke-linecap="round" stroke-linejoin="round"><path d="M237 648L281 728M268 588L318 668L283 730"/><path d="M395 640Q390 612 350 640L322 672L375 678Q392 700 362 716L300 730"/></g></mask></defs>
<g stroke="none" fill="#000" fill-opacity="0.045" style="pointer-events:none">
<rect x="180" y="530" width="270" height="245" mask="url(#hx)"/>
<text transform="translate(400 806) rotate(30)" font-size="268" font-weight="bold" textLength="950" lengthAdjust="spacingAndGlyphs" style="fill:#000">Švejček</text>
<text transform="translate(876 1186) rotate(30)" font-size="70" textLength="362" lengthAdjust="spacing" style="fill:#000;fill-opacity:0.03">GARDEN</text>
</g>
</g>
<g id="99_footer">
<text x="69.6" y="1822.8" font-size="14.5" text-anchor="start" textLength="203.5" lengthAdjust="spacingAndGlyphs">drive-tex CRD_K46_fender_8_r3</text>
</g>
</svg>
</body></html>
